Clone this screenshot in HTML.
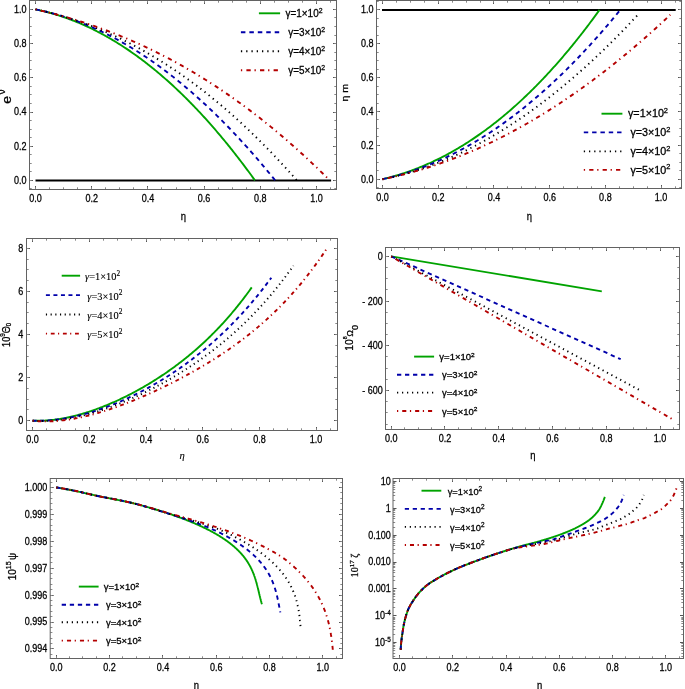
<!DOCTYPE html>
<html><head><meta charset="utf-8"><style>
html,body{margin:0;padding:0;background:#fff;width:685px;height:689px;overflow:hidden}
svg{display:block;will-change:transform}
text{stroke:#000;stroke-width:0.28px;fill:#000}
</style></head><body>
<svg width="685" height="689" viewBox="0 0 685 689">
<rect width="685" height="689" fill="#fff"/>
<path d="M35.5 189.5 V186 M35.5 0.5 V4 M91.5 189.5 V186 M91.5 0.5 V4 M147.5 189.5 V186 M147.5 0.5 V4 M204.5 189.5 V186 M204.5 0.5 V4 M260.5 189.5 V186 M260.5 0.5 V4 M316.5 189.5 V186 M316.5 0.5 V4" stroke="#555555" stroke-width="1" fill="none"/>
<path d="M35.5 189.5 V187.3 M35.5 0.5 V2.7 M49.5 189.5 V187.3 M49.5 0.5 V2.7 M63.5 189.5 V187.3 M63.5 0.5 V2.7 M77.5 189.5 V187.3 M77.5 0.5 V2.7 M91.5 189.5 V187.3 M91.5 0.5 V2.7 M105.5 189.5 V187.3 M105.5 0.5 V2.7 M119.5 189.5 V187.3 M119.5 0.5 V2.7 M133.5 189.5 V187.3 M133.5 0.5 V2.7 M147.5 189.5 V187.3 M147.5 0.5 V2.7 M161.5 189.5 V187.3 M161.5 0.5 V2.7 M176.5 189.5 V187.3 M176.5 0.5 V2.7 M190.5 189.5 V187.3 M190.5 0.5 V2.7 M204.5 189.5 V187.3 M204.5 0.5 V2.7 M218.5 189.5 V187.3 M218.5 0.5 V2.7 M232.5 189.5 V187.3 M232.5 0.5 V2.7 M246.5 189.5 V187.3 M246.5 0.5 V2.7 M260.5 189.5 V187.3 M260.5 0.5 V2.7 M274.5 189.5 V187.3 M274.5 0.5 V2.7 M288.5 189.5 V187.3 M288.5 0.5 V2.7 M302.5 189.5 V187.3 M302.5 0.5 V2.7 M316.5 189.5 V187.3 M316.5 0.5 V2.7 M330.5 189.5 V187.3 M330.5 0.5 V2.7" stroke="#8a8a8a" stroke-width="1" fill="none"/>
<path d="M29.5 180.5 H33 M336.5 180.5 H333 M29.5 146.5 H33 M336.5 146.5 H333 M29.5 112.5 H33 M336.5 112.5 H333 M29.5 77.5 H33 M336.5 77.5 H333 M29.5 43.5 H33 M336.5 43.5 H333 M29.5 9.5 H33 M336.5 9.5 H333" stroke="#555555" stroke-width="1" fill="none"/>
<path d="M29.5 188.5 H31.7 M336.5 188.5 H334.3 M29.5 180.5 H31.7 M336.5 180.5 H334.3 M29.5 171.5 H31.7 M336.5 171.5 H334.3 M29.5 163.5 H31.7 M336.5 163.5 H334.3 M29.5 154.5 H31.7 M336.5 154.5 H334.3 M29.5 146.5 H31.7 M336.5 146.5 H334.3 M29.5 137.5 H31.7 M336.5 137.5 H334.3 M29.5 129.5 H31.7 M336.5 129.5 H334.3 M29.5 120.5 H31.7 M336.5 120.5 H334.3 M29.5 112.5 H31.7 M336.5 112.5 H334.3 M29.5 103.5 H31.7 M336.5 103.5 H334.3 M29.5 94.5 H31.7 M336.5 94.5 H334.3 M29.5 86.5 H31.7 M336.5 86.5 H334.3 M29.5 77.5 H31.7 M336.5 77.5 H334.3 M29.5 69.5 H31.7 M336.5 69.5 H334.3 M29.5 60.5 H31.7 M336.5 60.5 H334.3 M29.5 52.5 H31.7 M336.5 52.5 H334.3 M29.5 43.5 H31.7 M336.5 43.5 H334.3 M29.5 35.5 H31.7 M336.5 35.5 H334.3 M29.5 26.5 H31.7 M336.5 26.5 H334.3 M29.5 17.5 H31.7 M336.5 17.5 H334.3 M29.5 9.5 H31.7 M336.5 9.5 H334.3 M29.5 0.5 H31.7 M336.5 0.5 H334.3" stroke="#8a8a8a" stroke-width="1" fill="none"/>
<rect x="29.5" y="0.5" width="307.0" height="189.0" fill="none" stroke="#626262" stroke-width="1"/>
<text transform="translate(26.6 183.8) scale(0.86 1)" font-size="10.5" text-anchor="end" font-family="'Liberation Sans', sans-serif">0.0</text>
<text transform="translate(35.5 202.3) scale(0.86 1)" font-size="10.5" text-anchor="middle" font-family="'Liberation Sans', sans-serif">0.0</text>
<text transform="translate(26.6 149.6) scale(0.86 1)" font-size="10.5" text-anchor="end" font-family="'Liberation Sans', sans-serif">0.2</text>
<text transform="translate(91.7 202.3) scale(0.86 1)" font-size="10.5" text-anchor="middle" font-family="'Liberation Sans', sans-serif">0.2</text>
<text transform="translate(26.6 115.4) scale(0.86 1)" font-size="10.5" text-anchor="end" font-family="'Liberation Sans', sans-serif">0.4</text>
<text transform="translate(147.9 202.3) scale(0.86 1)" font-size="10.5" text-anchor="middle" font-family="'Liberation Sans', sans-serif">0.4</text>
<text transform="translate(26.6 81.2) scale(0.86 1)" font-size="10.5" text-anchor="end" font-family="'Liberation Sans', sans-serif">0.6</text>
<text transform="translate(204.1 202.3) scale(0.86 1)" font-size="10.5" text-anchor="middle" font-family="'Liberation Sans', sans-serif">0.6</text>
<text transform="translate(26.6 47) scale(0.86 1)" font-size="10.5" text-anchor="end" font-family="'Liberation Sans', sans-serif">0.8</text>
<text transform="translate(260.3 202.3) scale(0.86 1)" font-size="10.5" text-anchor="middle" font-family="'Liberation Sans', sans-serif">0.8</text>
<text transform="translate(26.6 12.8) scale(0.86 1)" font-size="10.5" text-anchor="end" font-family="'Liberation Sans', sans-serif">1.0</text>
<text transform="translate(316.5 202.3) scale(0.86 1)" font-size="10.5" text-anchor="middle" font-family="'Liberation Sans', sans-serif">1.0</text>
<path d="M35.5 180.4 H331.1" stroke="#000" stroke-width="2"/>
<path d="M35.5 9.4 L36.6 9.63 L37.71 9.86 L38.81 10.1 L39.91 10.35 L41.01 10.6 L42.12 10.85 L43.22 11.12 L44.32 11.39 L45.43 11.66 L46.53 11.94 L47.63 12.23 L48.73 12.52 L49.84 12.82 L50.94 13.13 L52.04 13.44 L53.15 13.76 L54.25 14.08 L55.35 14.41 L56.45 14.75 L57.56 15.09 L58.66 15.44 L59.76 15.79 L60.86 16.15 L61.97 16.52 L63.07 16.89 L64.17 17.27 L65.28 17.65 L66.38 18.04 L67.48 18.44 L68.58 18.84 L69.69 19.25 L70.79 19.67 L71.89 20.09 L73 20.51 L74.1 20.95 L75.2 21.39 L76.3 21.83 L77.41 22.29 L78.51 22.74 L79.61 23.21 L80.72 23.68 L81.82 24.16 L82.92 24.64 L84.02 25.13 L85.13 25.63 L86.23 26.13 L87.33 26.64 L88.44 27.15 L89.54 27.67 L90.64 28.2 L91.74 28.73 L92.85 29.27 L93.95 29.82 L95.05 30.37 L96.16 30.93 L97.26 31.49 L98.36 32.06 L99.46 32.64 L100.57 33.22 L101.67 33.81 L102.77 34.41 L103.87 35.01 L104.98 35.62 L106.08 36.24 L107.18 36.86 L108.29 37.49 L109.39 38.12 L110.49 38.76 L111.59 39.41 L112.7 40.06 L113.8 40.72 L114.9 41.39 L116.01 42.06 L117.11 42.74 L118.21 43.43 L119.31 44.12 L120.42 44.82 L121.52 45.53 L122.62 46.24 L123.73 46.95 L124.83 47.68 L125.93 48.41 L127.03 49.15 L128.14 49.89 L129.24 50.64 L130.34 51.4 L131.45 52.16 L132.55 52.93 L133.65 53.71 L134.75 54.49 L135.86 55.28 L136.96 56.08 L138.06 56.88 L139.16 57.69 L140.27 58.51 L141.37 59.33 L142.47 60.16 L143.58 60.99 L144.68 61.83 L145.78 62.68 L146.88 63.54 L147.99 64.4 L149.09 65.27 L150.19 66.14 L151.3 67.02 L152.4 67.91 L153.5 68.81 L154.6 69.71 L155.71 70.62 L156.81 71.53 L157.91 72.45 L159.02 73.38 L160.12 74.32 L161.22 75.26 L162.32 76.21 L163.43 77.16 L164.53 78.12 L165.63 79.09 L166.74 80.07 L167.84 81.05 L168.94 82.04 L170.04 83.03 L171.15 84.03 L172.25 85.04 L173.35 86.06 L174.46 87.08 L175.56 88.11 L176.66 89.15 L177.76 90.19 L178.87 91.24 L179.97 92.29 L181.07 93.36 L182.17 94.43 L183.28 95.5 L184.38 96.59 L185.48 97.68 L186.59 98.77 L187.69 99.88 L188.79 100.99 L189.89 102.1 L191 103.23 L192.1 104.36 L193.2 105.5 L194.31 106.64 L195.41 107.8 L196.51 108.95 L197.61 110.12 L198.72 111.29 L199.82 112.47 L200.92 113.66 L202.03 114.85 L203.13 116.05 L204.23 117.26 L205.33 118.47 L206.44 119.69 L207.54 120.92 L208.64 122.16 L209.75 123.4 L210.85 124.65 L211.95 125.9 L213.05 127.17 L214.16 128.44 L215.26 129.71 L216.36 131 L217.47 132.29 L218.57 133.58 L219.67 134.89 L220.77 136.2 L221.88 137.52 L222.98 138.85 L224.08 140.18 L225.18 141.52 L226.29 142.87 L227.39 144.22 L228.49 145.58 L229.6 146.95 L230.7 148.32 L231.8 149.71 L232.9 151.1 L234.01 152.49 L235.11 153.9 L236.21 155.31 L237.32 156.73 L238.42 158.15 L239.52 159.58 L240.62 161.02 L241.73 162.47 L242.83 163.92 L243.93 165.38 L245.04 166.85 L246.14 168.33 L247.24 169.81 L248.34 171.3 L249.45 172.8 L250.55 174.3 L251.65 175.81 L252.76 177.33 L253.86 178.86 L254.96 180.39" fill="none" stroke="#00a300" stroke-width="1.9"/>
<path d="M35.5 9.4 L36.7 9.64 L37.91 9.88 L39.11 10.13 L40.32 10.39 L41.52 10.65 L42.73 10.92 L43.93 11.19 L45.14 11.47 L46.34 11.76 L47.54 12.05 L48.75 12.35 L49.95 12.65 L51.16 12.97 L52.36 13.28 L53.57 13.61 L54.77 13.94 L55.98 14.27 L57.18 14.62 L58.39 14.96 L59.59 15.32 L60.79 15.68 L62 16.05 L63.2 16.42 L64.41 16.8 L65.61 17.19 L66.82 17.58 L68.02 17.98 L69.23 18.38 L70.43 18.79 L71.63 19.21 L72.84 19.63 L74.04 20.06 L75.25 20.5 L76.45 20.94 L77.66 21.39 L78.86 21.84 L80.07 22.3 L81.27 22.77 L82.48 23.24 L83.68 23.72 L84.88 24.21 L86.09 24.7 L87.29 25.2 L88.5 25.7 L89.7 26.21 L90.91 26.73 L92.11 27.25 L93.32 27.78 L94.52 28.32 L95.72 28.86 L96.93 29.41 L98.13 29.96 L99.34 30.52 L100.54 31.09 L101.75 31.66 L102.95 32.24 L104.16 32.83 L105.36 33.42 L106.56 34.02 L107.77 34.62 L108.97 35.24 L110.18 35.85 L111.38 36.48 L112.59 37.11 L113.79 37.74 L115 38.38 L116.2 39.03 L117.41 39.69 L118.61 40.35 L119.81 41.02 L121.02 41.69 L122.22 42.37 L123.43 43.06 L124.63 43.75 L125.84 44.45 L127.04 45.15 L128.25 45.86 L129.45 46.58 L130.65 47.31 L131.86 48.04 L133.06 48.77 L134.27 49.51 L135.47 50.26 L136.68 51.02 L137.88 51.78 L139.09 52.55 L140.29 53.32 L141.49 54.1 L142.7 54.89 L143.9 55.69 L145.11 56.49 L146.31 57.29 L147.52 58.1 L148.72 58.92 L149.93 59.75 L151.13 60.58 L152.34 61.42 L153.54 62.26 L154.74 63.11 L155.95 63.97 L157.15 64.83 L158.36 65.7 L159.56 66.58 L160.77 67.46 L161.97 68.35 L163.18 69.24 L164.38 70.14 L165.58 71.05 L166.79 71.96 L167.99 72.88 L169.2 73.81 L170.4 74.74 L171.61 75.68 L172.81 76.63 L174.02 77.58 L175.22 78.54 L176.43 79.5 L177.63 80.47 L178.83 81.45 L180.04 82.43 L181.24 83.42 L182.45 84.42 L183.65 85.42 L184.86 86.43 L186.06 87.45 L187.27 88.47 L188.47 89.5 L189.67 90.53 L190.88 91.57 L192.08 92.62 L193.29 93.67 L194.49 94.74 L195.7 95.8 L196.9 96.87 L198.11 97.95 L199.31 99.04 L200.51 100.13 L201.72 101.23 L202.92 102.34 L204.13 103.45 L205.33 104.56 L206.54 105.69 L207.74 106.82 L208.95 107.96 L210.15 109.1 L211.36 110.25 L212.56 111.41 L213.76 112.57 L214.97 113.74 L216.17 114.91 L217.38 116.09 L218.58 117.28 L219.79 118.48 L220.99 119.68 L222.2 120.88 L223.4 122.1 L224.6 123.32 L225.81 124.55 L227.01 125.78 L228.22 127.02 L229.42 128.26 L230.63 129.52 L231.83 130.78 L233.04 132.04 L234.24 133.31 L235.44 134.59 L236.65 135.88 L237.85 137.17 L239.06 138.46 L240.26 139.77 L241.47 141.08 L242.67 142.39 L243.88 143.72 L245.08 145.05 L246.29 146.38 L247.49 147.73 L248.69 149.08 L249.9 150.43 L251.1 151.79 L252.31 153.16 L253.51 154.54 L254.72 155.92 L255.92 157.31 L257.13 158.7 L258.33 160.1 L259.53 161.51 L260.74 162.92 L261.94 164.34 L263.15 165.77 L264.35 167.2 L265.56 168.64 L266.76 170.09 L267.97 171.54 L269.17 173 L270.38 174.46 L271.58 175.94 L272.78 177.41 L273.99 178.9 L275.19 180.39" fill="none" stroke="#0000aa" stroke-width="1.9" stroke-dasharray="4.5 3.95"/>
<path d="M35.5 9.4 L36.81 9.68 L38.13 9.96 L39.44 10.25 L40.75 10.54 L42.07 10.84 L43.38 11.14 L44.69 11.45 L46.01 11.76 L47.32 12.08 L48.63 12.41 L49.95 12.74 L51.26 13.08 L52.57 13.42 L53.89 13.76 L55.2 14.12 L56.51 14.47 L57.82 14.84 L59.14 15.21 L60.45 15.58 L61.76 15.96 L63.08 16.35 L64.39 16.74 L65.7 17.13 L67.02 17.53 L68.33 17.94 L69.64 18.35 L70.96 18.77 L72.27 19.2 L73.58 19.63 L74.9 20.06 L76.21 20.5 L77.52 20.95 L78.84 21.4 L80.15 21.86 L81.46 22.32 L82.78 22.79 L84.09 23.26 L85.4 23.74 L86.72 24.23 L88.03 24.72 L89.34 25.22 L90.66 25.72 L91.97 26.23 L93.28 26.74 L94.59 27.26 L95.91 27.79 L97.22 28.32 L98.53 28.86 L99.85 29.4 L101.16 29.95 L102.47 30.5 L103.79 31.06 L105.1 31.63 L106.41 32.2 L107.73 32.77 L109.04 33.36 L110.35 33.95 L111.67 34.54 L112.98 35.14 L114.29 35.75 L115.61 36.36 L116.92 36.98 L118.23 37.6 L119.55 38.23 L120.86 38.86 L122.17 39.51 L123.49 40.15 L124.8 40.81 L126.11 41.46 L127.43 42.13 L128.74 42.8 L130.05 43.48 L131.36 44.16 L132.68 44.85 L133.99 45.54 L135.3 46.24 L136.62 46.95 L137.93 47.66 L139.24 48.38 L140.56 49.1 L141.87 49.83 L143.18 50.57 L144.5 51.31 L145.81 52.06 L147.12 52.81 L148.44 53.58 L149.75 54.34 L151.06 55.11 L152.38 55.89 L153.69 56.68 L155 57.47 L156.32 58.26 L157.63 59.07 L158.94 59.88 L160.26 60.69 L161.57 61.51 L162.88 62.34 L164.2 63.17 L165.51 64.01 L166.82 64.86 L168.13 65.71 L169.45 66.57 L170.76 67.43 L172.07 68.3 L173.39 69.18 L174.7 70.06 L176.01 70.95 L177.33 71.85 L178.64 72.75 L179.95 73.65 L181.27 74.57 L182.58 75.49 L183.89 76.41 L185.21 77.35 L186.52 78.29 L187.83 79.23 L189.15 80.18 L190.46 81.14 L191.77 82.1 L193.09 83.07 L194.4 84.05 L195.71 85.03 L197.03 86.02 L198.34 87.02 L199.65 88.02 L200.97 89.03 L202.28 90.04 L203.59 91.06 L204.9 92.09 L206.22 93.13 L207.53 94.17 L208.84 95.21 L210.16 96.27 L211.47 97.33 L212.78 98.39 L214.1 99.46 L215.41 100.54 L216.72 101.63 L218.04 102.72 L219.35 103.82 L220.66 104.92 L221.98 106.03 L223.29 107.15 L224.6 108.28 L225.92 109.41 L227.23 110.54 L228.54 111.69 L229.86 112.84 L231.17 113.99 L232.48 115.16 L233.8 116.33 L235.11 117.5 L236.42 118.69 L237.74 119.88 L239.05 121.07 L240.36 122.28 L241.67 123.49 L242.99 124.7 L244.3 125.93 L245.61 127.15 L246.93 128.39 L248.24 129.63 L249.55 130.88 L250.87 132.14 L252.18 133.4 L253.49 134.67 L254.81 135.95 L256.12 137.23 L257.43 138.52 L258.75 139.82 L260.06 141.12 L261.37 142.43 L262.69 143.75 L264 145.07 L265.31 146.4 L266.63 147.74 L267.94 149.08 L269.25 150.43 L270.57 151.79 L271.88 153.15 L273.19 154.52 L274.51 155.9 L275.82 157.28 L277.13 158.67 L278.44 160.07 L279.76 161.48 L281.07 162.89 L282.38 164.31 L283.7 165.73 L285.01 167.17 L286.32 168.61 L287.64 170.05 L288.95 171.5 L290.26 172.96 L291.58 174.43 L292.89 175.91 L294.2 177.39 L295.52 178.87 L296.83 180.37" fill="none" stroke="#000000" stroke-width="1.9" stroke-dasharray="1.3 3.97"/>
<path d="M35.5 9.4 L36.98 9.73 L38.46 10.06 L39.94 10.4 L41.41 10.75 L42.89 11.09 L44.37 11.45 L45.85 11.8 L47.33 12.16 L48.81 12.53 L50.28 12.9 L51.76 13.27 L53.24 13.65 L54.72 14.03 L56.2 14.42 L57.68 14.82 L59.15 15.21 L60.63 15.62 L62.11 16.02 L63.59 16.43 L65.07 16.85 L66.55 17.27 L68.03 17.7 L69.5 18.13 L70.98 18.56 L72.46 19 L73.94 19.44 L75.42 19.89 L76.9 20.35 L78.37 20.81 L79.85 21.27 L81.33 21.74 L82.81 22.21 L84.29 22.69 L85.77 23.17 L87.24 23.66 L88.72 24.15 L90.2 24.65 L91.68 25.15 L93.16 25.66 L94.64 26.17 L96.12 26.69 L97.59 27.21 L99.07 27.74 L100.55 28.27 L102.03 28.81 L103.51 29.35 L104.99 29.9 L106.46 30.45 L107.94 31.01 L109.42 31.57 L110.9 32.14 L112.38 32.71 L113.86 33.29 L115.34 33.88 L116.81 34.46 L118.29 35.06 L119.77 35.66 L121.25 36.26 L122.73 36.87 L124.21 37.49 L125.68 38.1 L127.16 38.73 L128.64 39.36 L130.12 40 L131.6 40.64 L133.08 41.28 L134.55 41.94 L136.03 42.59 L137.51 43.25 L138.99 43.92 L140.47 44.6 L141.95 45.27 L143.43 45.96 L144.9 46.65 L146.38 47.34 L147.86 48.04 L149.34 48.75 L150.82 49.46 L152.3 50.18 L153.77 50.9 L155.25 51.63 L156.73 52.36 L158.21 53.1 L159.69 53.84 L161.17 54.59 L162.64 55.35 L164.12 56.11 L165.6 56.88 L167.08 57.65 L168.56 58.43 L170.04 59.21 L171.52 60 L172.99 60.8 L174.47 61.6 L175.95 62.41 L177.43 63.22 L178.91 64.04 L180.39 64.86 L181.86 65.69 L183.34 66.53 L184.82 67.37 L186.3 68.22 L187.78 69.07 L189.26 69.93 L190.73 70.79 L192.21 71.66 L193.69 72.54 L195.17 73.42 L196.65 74.31 L198.13 75.21 L199.61 76.11 L201.08 77.01 L202.56 77.93 L204.04 78.85 L205.52 79.77 L207 80.7 L208.48 81.64 L209.95 82.58 L211.43 83.53 L212.91 84.48 L214.39 85.45 L215.87 86.41 L217.35 87.39 L218.82 88.37 L220.3 89.35 L221.78 90.34 L223.26 91.34 L224.74 92.34 L226.22 93.36 L227.7 94.37 L229.17 95.39 L230.65 96.42 L232.13 97.46 L233.61 98.5 L235.09 99.55 L236.57 100.6 L238.04 101.66 L239.52 102.73 L241 103.8 L242.48 104.88 L243.96 105.97 L245.44 107.06 L246.92 108.16 L248.39 109.27 L249.87 110.38 L251.35 111.5 L252.83 112.62 L254.31 113.75 L255.79 114.89 L257.26 116.03 L258.74 117.19 L260.22 118.34 L261.7 119.51 L263.18 120.68 L264.66 121.85 L266.13 123.04 L267.61 124.23 L269.09 125.42 L270.57 126.63 L272.05 127.84 L273.53 129.06 L275.01 130.28 L276.48 131.51 L277.96 132.75 L279.44 133.99 L280.92 135.24 L282.4 136.5 L283.88 137.76 L285.35 139.03 L286.83 140.31 L288.31 141.59 L289.79 142.89 L291.27 144.18 L292.75 145.49 L294.22 146.8 L295.7 148.12 L297.18 149.44 L298.66 150.78 L300.14 152.12 L301.62 153.46 L303.1 154.82 L304.57 156.18 L306.05 157.54 L307.53 158.92 L309.01 160.3 L310.49 161.69 L311.97 163.08 L313.44 164.48 L314.92 165.89 L316.4 167.31 L317.88 168.73 L319.36 170.17 L320.84 171.6 L322.31 173.05 L323.79 174.5 L325.27 175.96 L326.75 177.43 L328.23 178.9 L329.71 180.38" fill="none" stroke="#b40000" stroke-width="1.9" stroke-dasharray="1.3 4.2 4.3 3.8"/>
<path d="M258.9 13.3 L280.1 13.3" fill="none" stroke="#00a300" stroke-width="1.9"/>
<text x="285.5" y="17" font-size="10.2" font-family="'Liberation Sans', sans-serif" textLength="37" lengthAdjust="spacingAndGlyphs">&#947;=1&#215;10<tspan dy="-4.08" font-size="7.04">2</tspan></text>
<path d="M240.9 32.2 L280.1 32.2" fill="none" stroke="#0000aa" stroke-width="1.9" stroke-dasharray="4.5 3.95"/>
<text x="288.2" y="35.9" font-size="10.2" font-family="'Liberation Sans', sans-serif" textLength="37" lengthAdjust="spacingAndGlyphs">&#947;=3&#215;10<tspan dy="-4.08" font-size="7.04">2</tspan></text>
<path d="M240.9 51.3 L280.1 51.3" fill="none" stroke="#000000" stroke-width="1.9" stroke-dasharray="1.3 3.97"/>
<text x="288.2" y="55" font-size="10.2" font-family="'Liberation Sans', sans-serif" textLength="37" lengthAdjust="spacingAndGlyphs">&#947;=4&#215;10<tspan dy="-4.08" font-size="7.04">2</tspan></text>
<path d="M240.9 70.3 L280.1 70.3" fill="none" stroke="#b40000" stroke-width="1.9" stroke-dasharray="1.3 4.2 4.3 3.8"/>
<text x="288.2" y="74" font-size="10.2" font-family="'Liberation Sans', sans-serif" textLength="37" lengthAdjust="spacingAndGlyphs">&#947;=5&#215;10<tspan dy="-4.08" font-size="7.04">2</tspan></text>
<text transform="translate(11.2 103.8) rotate(-90) scale(1 0.92)" font-size="14" font-family="'Liberation Sans', sans-serif">e<tspan dy="-6.3" dx="1.8" font-size="9.5">&#957;</tspan></text>
<text transform="translate(183.3 219.7) scale(0.86 1)" font-size="11" text-anchor="middle" font-family="'Liberation Sans', sans-serif">&#951;</text>
<path d="M382.5 188.5 V185 M382.5 0.5 V4 M438.5 188.5 V185 M438.5 0.5 V4 M493.5 188.5 V185 M493.5 0.5 V4 M549.5 188.5 V185 M549.5 0.5 V4 M605.5 188.5 V185 M605.5 0.5 V4 M661.5 188.5 V185 M661.5 0.5 V4" stroke="#555555" stroke-width="1" fill="none"/>
<path d="M382.5 188.5 V186.3 M382.5 0.5 V2.7 M396.5 188.5 V186.3 M396.5 0.5 V2.7 M410.5 188.5 V186.3 M410.5 0.5 V2.7 M424.5 188.5 V186.3 M424.5 0.5 V2.7 M438.5 188.5 V186.3 M438.5 0.5 V2.7 M452.5 188.5 V186.3 M452.5 0.5 V2.7 M466.5 188.5 V186.3 M466.5 0.5 V2.7 M480.5 188.5 V186.3 M480.5 0.5 V2.7 M493.5 188.5 V186.3 M493.5 0.5 V2.7 M507.5 188.5 V186.3 M507.5 0.5 V2.7 M521.5 188.5 V186.3 M521.5 0.5 V2.7 M535.5 188.5 V186.3 M535.5 0.5 V2.7 M549.5 188.5 V186.3 M549.5 0.5 V2.7 M563.5 188.5 V186.3 M563.5 0.5 V2.7 M577.5 188.5 V186.3 M577.5 0.5 V2.7 M591.5 188.5 V186.3 M591.5 0.5 V2.7 M605.5 188.5 V186.3 M605.5 0.5 V2.7 M619.5 188.5 V186.3 M619.5 0.5 V2.7 M633.5 188.5 V186.3 M633.5 0.5 V2.7 M647.5 188.5 V186.3 M647.5 0.5 V2.7 M661.5 188.5 V186.3 M661.5 0.5 V2.7 M675.5 188.5 V186.3 M675.5 0.5 V2.7" stroke="#8a8a8a" stroke-width="1" fill="none"/>
<path d="M376.5 179.5 H380 M681.5 179.5 H678 M376.5 145.5 H380 M681.5 145.5 H678 M376.5 111.5 H380 M681.5 111.5 H678 M376.5 77.5 H380 M681.5 77.5 H678 M376.5 43.5 H380 M681.5 43.5 H678 M376.5 9.5 H380 M681.5 9.5 H678" stroke="#555555" stroke-width="1" fill="none"/>
<path d="M376.5 187.5 H378.7 M681.5 187.5 H679.3 M376.5 179.5 H378.7 M681.5 179.5 H679.3 M376.5 170.5 H378.7 M681.5 170.5 H679.3 M376.5 162.5 H378.7 M681.5 162.5 H679.3 M376.5 153.5 H378.7 M681.5 153.5 H679.3 M376.5 145.5 H378.7 M681.5 145.5 H679.3 M376.5 136.5 H378.7 M681.5 136.5 H679.3 M376.5 128.5 H378.7 M681.5 128.5 H679.3 M376.5 119.5 H378.7 M681.5 119.5 H679.3 M376.5 111.5 H378.7 M681.5 111.5 H679.3 M376.5 103.5 H378.7 M681.5 103.5 H679.3 M376.5 94.5 H378.7 M681.5 94.5 H679.3 M376.5 86.5 H378.7 M681.5 86.5 H679.3 M376.5 77.5 H378.7 M681.5 77.5 H679.3 M376.5 69.5 H378.7 M681.5 69.5 H679.3 M376.5 60.5 H378.7 M681.5 60.5 H679.3 M376.5 52.5 H378.7 M681.5 52.5 H679.3 M376.5 43.5 H378.7 M681.5 43.5 H679.3 M376.5 35.5 H378.7 M681.5 35.5 H679.3 M376.5 26.5 H378.7 M681.5 26.5 H679.3 M376.5 18.5 H378.7 M681.5 18.5 H679.3 M376.5 9.5 H378.7 M681.5 9.5 H679.3 M376.5 1.5 H378.7 M681.5 1.5 H679.3" stroke="#8a8a8a" stroke-width="1" fill="none"/>
<rect x="376.5" y="0.5" width="305.0" height="188.0" fill="none" stroke="#626262" stroke-width="1"/>
<text transform="translate(373.6 182.6) scale(0.86 1)" font-size="10.5" text-anchor="end" font-family="'Liberation Sans', sans-serif">0.0</text>
<text transform="translate(382.5 201.4) scale(0.86 1)" font-size="10.5" text-anchor="middle" font-family="'Liberation Sans', sans-serif">0.0</text>
<text transform="translate(373.6 148.74) scale(0.86 1)" font-size="10.5" text-anchor="end" font-family="'Liberation Sans', sans-serif">0.2</text>
<text transform="translate(438.22 201.4) scale(0.86 1)" font-size="10.5" text-anchor="middle" font-family="'Liberation Sans', sans-serif">0.2</text>
<text transform="translate(373.6 114.88) scale(0.86 1)" font-size="10.5" text-anchor="end" font-family="'Liberation Sans', sans-serif">0.4</text>
<text transform="translate(493.94 201.4) scale(0.86 1)" font-size="10.5" text-anchor="middle" font-family="'Liberation Sans', sans-serif">0.4</text>
<text transform="translate(373.6 81.02) scale(0.86 1)" font-size="10.5" text-anchor="end" font-family="'Liberation Sans', sans-serif">0.6</text>
<text transform="translate(549.66 201.4) scale(0.86 1)" font-size="10.5" text-anchor="middle" font-family="'Liberation Sans', sans-serif">0.6</text>
<text transform="translate(373.6 47.16) scale(0.86 1)" font-size="10.5" text-anchor="end" font-family="'Liberation Sans', sans-serif">0.8</text>
<text transform="translate(605.38 201.4) scale(0.86 1)" font-size="10.5" text-anchor="middle" font-family="'Liberation Sans', sans-serif">0.8</text>
<text transform="translate(373.6 13.3) scale(0.86 1)" font-size="10.5" text-anchor="end" font-family="'Liberation Sans', sans-serif">1.0</text>
<text transform="translate(661.1 201.4) scale(0.86 1)" font-size="10.5" text-anchor="middle" font-family="'Liberation Sans', sans-serif">1.0</text>
<path d="M382 9.9 H675.7" stroke="#000" stroke-width="2"/>
<path d="M382.5 179.2 L383.59 178.94 L384.68 178.68 L385.77 178.42 L386.86 178.14 L387.95 177.86 L389.04 177.58 L390.13 177.29 L391.22 177 L392.32 176.7 L393.41 176.4 L394.5 176.09 L395.59 175.77 L396.68 175.45 L397.77 175.12 L398.86 174.79 L399.95 174.45 L401.04 174.11 L402.13 173.76 L403.22 173.41 L404.31 173.05 L405.4 172.69 L406.49 172.32 L407.58 171.94 L408.67 171.56 L409.76 171.17 L410.86 170.78 L411.95 170.38 L413.04 169.98 L414.13 169.57 L415.22 169.15 L416.31 168.73 L417.4 168.31 L418.49 167.88 L419.58 167.44 L420.67 167 L421.76 166.55 L422.85 166.09 L423.94 165.63 L425.03 165.17 L426.12 164.69 L427.21 164.22 L428.31 163.73 L429.4 163.25 L430.49 162.75 L431.58 162.25 L432.67 161.75 L433.76 161.23 L434.85 160.72 L435.94 160.19 L437.03 159.66 L438.12 159.13 L439.21 158.59 L440.3 158.04 L441.39 157.49 L442.48 156.93 L443.57 156.37 L444.66 155.8 L445.75 155.22 L446.85 154.64 L447.94 154.05 L449.03 153.46 L450.12 152.86 L451.21 152.25 L452.3 151.64 L453.39 151.02 L454.48 150.4 L455.57 149.77 L456.66 149.13 L457.75 148.49 L458.84 147.84 L459.93 147.19 L461.02 146.53 L462.11 145.86 L463.2 145.19 L464.3 144.51 L465.39 143.83 L466.48 143.14 L467.57 142.44 L468.66 141.74 L469.75 141.03 L470.84 140.32 L471.93 139.6 L473.02 138.87 L474.11 138.14 L475.2 137.4 L476.29 136.65 L477.38 135.9 L478.47 135.14 L479.56 134.38 L480.65 133.61 L481.74 132.83 L482.84 132.05 L483.93 131.26 L485.02 130.46 L486.11 129.66 L487.2 128.85 L488.29 128.04 L489.38 127.22 L490.47 126.39 L491.56 125.56 L492.65 124.72 L493.74 123.87 L494.83 123.02 L495.92 122.16 L497.01 121.3 L498.1 120.42 L499.19 119.55 L500.28 118.66 L501.38 117.77 L502.47 116.87 L503.56 115.97 L504.65 115.06 L505.74 114.14 L506.83 113.22 L507.92 112.29 L509.01 111.35 L510.1 110.41 L511.19 109.46 L512.28 108.5 L513.37 107.54 L514.46 106.57 L515.55 105.6 L516.64 104.62 L517.73 103.63 L518.83 102.63 L519.92 101.63 L521.01 100.62 L522.1 99.61 L523.19 98.58 L524.28 97.55 L525.37 96.52 L526.46 95.48 L527.55 94.43 L528.64 93.37 L529.73 92.31 L530.82 91.24 L531.91 90.17 L533 89.09 L534.09 88 L535.18 86.9 L536.27 85.8 L537.37 84.69 L538.46 83.57 L539.55 82.45 L540.64 81.32 L541.73 80.18 L542.82 79.04 L543.91 77.89 L545 76.73 L546.09 75.57 L547.18 74.4 L548.27 73.22 L549.36 72.04 L550.45 70.84 L551.54 69.65 L552.63 68.44 L553.72 67.23 L554.81 66.01 L555.91 64.78 L557 63.55 L558.09 62.31 L559.18 61.06 L560.27 59.81 L561.36 58.55 L562.45 57.28 L563.54 56 L564.63 54.72 L565.72 53.43 L566.81 52.13 L567.9 50.83 L568.99 49.52 L570.08 48.2 L571.17 46.88 L572.26 45.55 L573.36 44.21 L574.45 42.86 L575.54 41.51 L576.63 40.15 L577.72 38.78 L578.81 37.4 L579.9 36.02 L580.99 34.63 L582.08 33.24 L583.17 31.83 L584.26 30.42 L585.35 29 L586.44 27.58 L587.53 26.14 L588.62 24.7 L589.71 23.26 L590.8 21.8 L591.9 20.34 L592.99 18.87 L594.08 17.39 L595.17 15.91 L596.26 14.42 L597.35 12.92 L598.44 11.41 L599.53 9.9" fill="none" stroke="#00a300" stroke-width="1.9"/>
<path d="M382.5 179.2 L383.69 178.94 L384.88 178.68 L386.07 178.41 L387.27 178.13 L388.46 177.85 L389.65 177.57 L390.84 177.28 L392.03 176.98 L393.22 176.67 L394.41 176.37 L395.61 176.05 L396.8 175.73 L397.99 175.4 L399.18 175.07 L400.37 174.73 L401.56 174.39 L402.75 174.04 L403.95 173.68 L405.14 173.32 L406.33 172.96 L407.52 172.58 L408.71 172.21 L409.9 171.82 L411.09 171.43 L412.29 171.04 L413.48 170.63 L414.67 170.23 L415.86 169.81 L417.05 169.4 L418.24 168.97 L419.43 168.54 L420.62 168.1 L421.82 167.66 L423.01 167.21 L424.2 166.76 L425.39 166.3 L426.58 165.83 L427.77 165.36 L428.96 164.88 L430.16 164.4 L431.35 163.91 L432.54 163.42 L433.73 162.92 L434.92 162.41 L436.11 161.9 L437.3 161.38 L438.5 160.86 L439.69 160.33 L440.88 159.79 L442.07 159.25 L443.26 158.7 L444.45 158.15 L445.64 157.59 L446.84 157.02 L448.03 156.45 L449.22 155.87 L450.41 155.29 L451.6 154.7 L452.79 154.11 L453.98 153.5 L455.18 152.9 L456.37 152.28 L457.56 151.67 L458.75 151.04 L459.94 150.41 L461.13 149.77 L462.32 149.13 L463.52 148.48 L464.71 147.83 L465.9 147.17 L467.09 146.5 L468.28 145.83 L469.47 145.15 L470.66 144.47 L471.86 143.78 L473.05 143.08 L474.24 142.38 L475.43 141.67 L476.62 140.96 L477.81 140.24 L479 139.51 L480.19 138.78 L481.39 138.04 L482.58 137.3 L483.77 136.55 L484.96 135.79 L486.15 135.03 L487.34 134.26 L488.53 133.49 L489.73 132.71 L490.92 131.92 L492.11 131.13 L493.3 130.33 L494.49 129.52 L495.68 128.71 L496.87 127.9 L498.07 127.07 L499.26 126.25 L500.45 125.41 L501.64 124.57 L502.83 123.72 L504.02 122.87 L505.21 122.01 L506.41 121.15 L507.6 120.28 L508.79 119.4 L509.98 118.52 L511.17 117.63 L512.36 116.73 L513.55 115.83 L514.75 114.92 L515.94 114.01 L517.13 113.09 L518.32 112.16 L519.51 111.23 L520.7 110.29 L521.89 109.35 L523.09 108.4 L524.28 107.44 L525.47 106.48 L526.66 105.51 L527.85 104.53 L529.04 103.55 L530.23 102.57 L531.42 101.57 L532.62 100.57 L533.81 99.57 L535 98.56 L536.19 97.54 L537.38 96.51 L538.57 95.48 L539.76 94.45 L540.96 93.4 L542.15 92.35 L543.34 91.3 L544.53 90.24 L545.72 89.17 L546.91 88.1 L548.1 87.02 L549.3 85.93 L550.49 84.84 L551.68 83.74 L552.87 82.63 L554.06 81.52 L555.25 80.41 L556.44 79.28 L557.64 78.15 L558.83 77.02 L560.02 75.88 L561.21 74.73 L562.4 73.57 L563.59 72.41 L564.78 71.24 L565.98 70.07 L567.17 68.89 L568.36 67.71 L569.55 66.51 L570.74 65.32 L571.93 64.11 L573.12 62.9 L574.32 61.68 L575.51 60.46 L576.7 59.23 L577.89 57.99 L579.08 56.75 L580.27 55.5 L581.46 54.25 L582.66 52.99 L583.85 51.72 L585.04 50.44 L586.23 49.16 L587.42 47.88 L588.61 46.58 L589.8 45.29 L591 43.98 L592.19 42.67 L593.38 41.35 L594.57 40.03 L595.76 38.69 L596.95 37.36 L598.14 36.01 L599.33 34.66 L600.53 33.31 L601.72 31.95 L602.91 30.58 L604.1 29.2 L605.29 27.82 L606.48 26.43 L607.67 25.04 L608.87 23.64 L610.06 22.23 L611.25 20.82 L612.44 19.4 L613.63 17.97 L614.82 16.54 L616.01 15.1 L617.21 13.65 L618.4 12.2 L619.59 10.74" fill="none" stroke="#0000aa" stroke-width="1.9" stroke-dasharray="4.43 3.89"/>
<path d="M382.5 179.2 L383.79 178.94 L385.08 178.68 L386.36 178.42 L387.65 178.15 L388.94 177.87 L390.23 177.58 L391.52 177.29 L392.8 177 L394.09 176.69 L395.38 176.39 L396.67 176.07 L397.96 175.75 L399.24 175.42 L400.53 175.09 L401.82 174.75 L403.11 174.41 L404.4 174.06 L405.68 173.71 L406.97 173.34 L408.26 172.98 L409.55 172.6 L410.84 172.22 L412.12 171.84 L413.41 171.45 L414.7 171.05 L415.99 170.65 L417.28 170.24 L418.56 169.82 L419.85 169.4 L421.14 168.97 L422.43 168.54 L423.72 168.1 L425 167.66 L426.29 167.21 L427.58 166.75 L428.87 166.29 L430.16 165.82 L431.44 165.35 L432.73 164.87 L434.02 164.38 L435.31 163.89 L436.6 163.39 L437.88 162.89 L439.17 162.38 L440.46 161.87 L441.75 161.34 L443.04 160.82 L444.32 160.28 L445.61 159.75 L446.9 159.2 L448.19 158.65 L449.48 158.1 L450.76 157.53 L452.05 156.97 L453.34 156.39 L454.63 155.81 L455.92 155.23 L457.2 154.64 L458.49 154.04 L459.78 153.44 L461.07 152.83 L462.36 152.21 L463.64 151.59 L464.93 150.97 L466.22 150.33 L467.51 149.69 L468.8 149.05 L470.08 148.4 L471.37 147.75 L472.66 147.08 L473.95 146.42 L475.24 145.74 L476.52 145.07 L477.81 144.38 L479.1 143.69 L480.39 143 L481.68 142.29 L482.96 141.59 L484.25 140.87 L485.54 140.15 L486.83 139.43 L488.12 138.7 L489.4 137.96 L490.69 137.22 L491.98 136.47 L493.27 135.72 L494.56 134.96 L495.84 134.19 L497.13 133.42 L498.42 132.64 L499.71 131.86 L501 131.07 L502.28 130.27 L503.57 129.47 L504.86 128.67 L506.15 127.86 L507.44 127.04 L508.72 126.22 L510.01 125.39 L511.3 124.55 L512.59 123.71 L513.88 122.87 L515.16 122.01 L516.45 121.16 L517.74 120.29 L519.03 119.42 L520.32 118.55 L521.6 117.67 L522.89 116.78 L524.18 115.89 L525.47 114.99 L526.76 114.09 L528.04 113.18 L529.33 112.26 L530.62 111.34 L531.91 110.41 L533.2 109.48 L534.48 108.54 L535.77 107.6 L537.06 106.65 L538.35 105.7 L539.64 104.73 L540.92 103.77 L542.21 102.8 L543.5 101.82 L544.79 100.83 L546.08 99.85 L547.36 98.85 L548.65 97.85 L549.94 96.84 L551.23 95.83 L552.52 94.81 L553.8 93.79 L555.09 92.76 L556.38 91.73 L557.67 90.69 L558.96 89.64 L560.24 88.59 L561.53 87.53 L562.82 86.47 L564.11 85.4 L565.4 84.32 L566.68 83.24 L567.97 82.16 L569.26 81.07 L570.55 79.97 L571.84 78.87 L573.12 77.76 L574.41 76.64 L575.7 75.52 L576.99 74.4 L578.28 73.27 L579.56 72.13 L580.85 70.99 L582.14 69.84 L583.43 68.69 L584.72 67.53 L586 66.36 L587.29 65.19 L588.58 64.02 L589.87 62.84 L591.16 61.65 L592.44 60.46 L593.73 59.26 L595.02 58.05 L596.31 56.84 L597.6 55.63 L598.88 54.41 L600.17 53.18 L601.46 51.95 L602.75 50.71 L604.04 49.47 L605.32 48.22 L606.61 46.96 L607.9 45.7 L609.19 44.44 L610.48 43.17 L611.76 41.89 L613.05 40.61 L614.34 39.32 L615.63 38.03 L616.92 36.73 L618.2 35.42 L619.49 34.11 L620.78 32.8 L622.07 31.47 L623.36 30.15 L624.64 28.82 L625.93 27.48 L627.22 26.13 L628.51 24.78 L629.8 23.43 L631.08 22.07 L632.37 20.7 L633.66 19.33 L634.95 17.95 L636.24 16.57 L637.52 15.18 L638.81 13.79" fill="none" stroke="#000000" stroke-width="1.9" stroke-dasharray="1.28 3.91"/>
<path d="M382.5 179.2 L383.95 178.91 L385.39 178.62 L386.84 178.32 L388.28 178.01 L389.73 177.7 L391.18 177.39 L392.62 177.07 L394.07 176.74 L395.52 176.41 L396.96 176.07 L398.41 175.73 L399.85 175.38 L401.3 175.03 L402.75 174.67 L404.19 174.31 L405.64 173.94 L407.09 173.56 L408.53 173.18 L409.98 172.8 L411.42 172.4 L412.87 172.01 L414.32 171.61 L415.76 171.2 L417.21 170.78 L418.65 170.37 L420.1 169.94 L421.55 169.51 L422.99 169.08 L424.44 168.64 L425.89 168.19 L427.33 167.74 L428.78 167.28 L430.22 166.82 L431.67 166.35 L433.12 165.88 L434.56 165.4 L436.01 164.92 L437.46 164.43 L438.9 163.93 L440.35 163.43 L441.79 162.93 L443.24 162.41 L444.69 161.9 L446.13 161.37 L447.58 160.85 L449.03 160.31 L450.47 159.78 L451.92 159.23 L453.36 158.68 L454.81 158.13 L456.26 157.57 L457.7 157 L459.15 156.43 L460.59 155.85 L462.04 155.27 L463.49 154.68 L464.93 154.09 L466.38 153.49 L467.83 152.89 L469.27 152.28 L470.72 151.66 L472.16 151.04 L473.61 150.42 L475.06 149.79 L476.5 149.15 L477.95 148.51 L479.4 147.86 L480.84 147.21 L482.29 146.55 L483.73 145.89 L485.18 145.22 L486.63 144.54 L488.07 143.86 L489.52 143.18 L490.97 142.49 L492.41 141.79 L493.86 141.09 L495.3 140.38 L496.75 139.67 L498.2 138.95 L499.64 138.23 L501.09 137.5 L502.53 136.77 L503.98 136.03 L505.43 135.28 L506.87 134.53 L508.32 133.77 L509.77 133.01 L511.21 132.25 L512.66 131.47 L514.1 130.7 L515.55 129.91 L517 129.12 L518.44 128.33 L519.89 127.53 L521.34 126.73 L522.78 125.92 L524.23 125.1 L525.67 124.28 L527.12 123.45 L528.57 122.62 L530.01 121.78 L531.46 120.94 L532.9 120.09 L534.35 119.24 L535.8 118.38 L537.24 117.51 L538.69 116.64 L540.14 115.77 L541.58 114.89 L543.03 114 L544.47 113.11 L545.92 112.21 L547.37 111.31 L548.81 110.4 L550.26 109.49 L551.71 108.57 L553.15 107.65 L554.6 106.72 L556.04 105.78 L557.49 104.84 L558.94 103.9 L560.38 102.94 L561.83 101.99 L563.27 101.02 L564.72 100.06 L566.17 99.08 L567.61 98.11 L569.06 97.12 L570.51 96.13 L571.95 95.14 L573.4 94.14 L574.84 93.13 L576.29 92.12 L577.74 91.11 L579.18 90.08 L580.63 89.06 L582.08 88.02 L583.52 86.99 L584.97 85.94 L586.41 84.89 L587.86 83.84 L589.31 82.78 L590.75 81.71 L592.2 80.64 L593.65 79.57 L595.09 78.49 L596.54 77.4 L597.98 76.31 L599.43 75.21 L600.88 74.11 L602.32 73 L603.77 71.89 L605.21 70.77 L606.66 69.64 L608.11 68.51 L609.55 67.38 L611 66.24 L612.45 65.09 L613.89 63.94 L615.34 62.78 L616.78 61.62 L618.23 60.45 L619.68 59.28 L621.12 58.1 L622.57 56.91 L624.02 55.72 L625.46 54.53 L626.91 53.33 L628.35 52.12 L629.8 50.91 L631.25 49.7 L632.69 48.47 L634.14 47.25 L635.59 46.01 L637.03 44.78 L638.48 43.53 L639.92 42.28 L641.37 41.03 L642.82 39.77 L644.26 38.5 L645.71 37.23 L647.15 35.96 L648.6 34.68 L650.05 33.39 L651.49 32.1 L652.94 30.8 L654.39 29.5 L655.83 28.19 L657.28 26.87 L658.72 25.55 L660.17 24.23 L661.62 22.9 L663.06 21.56 L664.51 20.22 L665.96 18.88 L667.4 17.53 L668.85 16.17 L670.29 14.81" fill="none" stroke="#b40000" stroke-width="1.9" stroke-dasharray="1.28 4.14 4.24 3.74"/>
<path d="M601.5 113.7 L622.4 113.7" fill="none" stroke="#00a300" stroke-width="1.9"/>
<text x="628" y="117.4" font-size="10.4" font-family="'Liberation Sans', sans-serif" textLength="40" lengthAdjust="spacingAndGlyphs">&#947;=1&#215;10<tspan dy="-4.16" font-size="7.18">2</tspan></text>
<path d="M583.8 132.4 L622.4 132.4" fill="none" stroke="#0000aa" stroke-width="1.9" stroke-dasharray="4.43 3.89"/>
<text x="630.4" y="136.1" font-size="10.4" font-family="'Liberation Sans', sans-serif" textLength="40" lengthAdjust="spacingAndGlyphs">&#947;=3&#215;10<tspan dy="-4.16" font-size="7.18">2</tspan></text>
<path d="M583.8 151.4 L622.4 151.4" fill="none" stroke="#000000" stroke-width="1.9" stroke-dasharray="1.28 3.91"/>
<text x="630.4" y="155.1" font-size="10.4" font-family="'Liberation Sans', sans-serif" textLength="40" lengthAdjust="spacingAndGlyphs">&#947;=4&#215;10<tspan dy="-4.16" font-size="7.18">2</tspan></text>
<path d="M583.8 169.9 L622.4 169.9" fill="none" stroke="#b40000" stroke-width="1.9" stroke-dasharray="1.28 4.14 4.24 3.74"/>
<text x="630.4" y="173.6" font-size="10.4" font-family="'Liberation Sans', sans-serif" textLength="40" lengthAdjust="spacingAndGlyphs">&#947;=5&#215;10<tspan dy="-4.16" font-size="7.18">2</tspan></text>
<text transform="translate(348.2 101.5) rotate(-90) scale(1 0.93)" font-size="10.6" font-family="'Liberation Sans', sans-serif">&#951; m</text>
<text transform="translate(529.3 220) scale(0.86 1)" font-size="11" text-anchor="middle" font-family="'Liberation Sans', sans-serif">&#951;</text>
<path d="M32.5 430.5 V427 M32.5 238.5 V242 M89.5 430.5 V427 M89.5 238.5 V242 M146.5 430.5 V427 M146.5 238.5 V242 M202.5 430.5 V427 M202.5 238.5 V242 M259.5 430.5 V427 M259.5 238.5 V242 M316.5 430.5 V427 M316.5 238.5 V242" stroke="#555555" stroke-width="1" fill="none"/>
<path d="M32.5 430.5 V428.3 M32.5 238.5 V240.7 M46.5 430.5 V428.3 M46.5 238.5 V240.7 M60.5 430.5 V428.3 M60.5 238.5 V240.7 M75.5 430.5 V428.3 M75.5 238.5 V240.7 M89.5 430.5 V428.3 M89.5 238.5 V240.7 M103.5 430.5 V428.3 M103.5 238.5 V240.7 M117.5 430.5 V428.3 M117.5 238.5 V240.7 M131.5 430.5 V428.3 M131.5 238.5 V240.7 M146.5 430.5 V428.3 M146.5 238.5 V240.7 M160.5 430.5 V428.3 M160.5 238.5 V240.7 M174.5 430.5 V428.3 M174.5 238.5 V240.7 M188.5 430.5 V428.3 M188.5 238.5 V240.7 M202.5 430.5 V428.3 M202.5 238.5 V240.7 M216.5 430.5 V428.3 M216.5 238.5 V240.7 M231.5 430.5 V428.3 M231.5 238.5 V240.7 M245.5 430.5 V428.3 M245.5 238.5 V240.7 M259.5 430.5 V428.3 M259.5 238.5 V240.7 M273.5 430.5 V428.3 M273.5 238.5 V240.7 M287.5 430.5 V428.3 M287.5 238.5 V240.7 M301.5 430.5 V428.3 M301.5 238.5 V240.7 M316.5 430.5 V428.3 M316.5 238.5 V240.7 M330.5 430.5 V428.3 M330.5 238.5 V240.7" stroke="#8a8a8a" stroke-width="1" fill="none"/>
<path d="M26.5 420.5 H30 M337.5 420.5 H334 M26.5 377.5 H30 M337.5 377.5 H334 M26.5 334.5 H30 M337.5 334.5 H334 M26.5 291.5 H30 M337.5 291.5 H334 M26.5 248.5 H30 M337.5 248.5 H334" stroke="#555555" stroke-width="1" fill="none"/>
<path d="M26.5 420.5 H28.7 M337.5 420.5 H335.3 M26.5 409.5 H28.7 M337.5 409.5 H335.3 M26.5 399.5 H28.7 M337.5 399.5 H335.3 M26.5 388.5 H28.7 M337.5 388.5 H335.3 M26.5 377.5 H28.7 M337.5 377.5 H335.3 M26.5 366.5 H28.7 M337.5 366.5 H335.3 M26.5 356.5 H28.7 M337.5 356.5 H335.3 M26.5 345.5 H28.7 M337.5 345.5 H335.3 M26.5 334.5 H28.7 M337.5 334.5 H335.3 M26.5 323.5 H28.7 M337.5 323.5 H335.3 M26.5 312.5 H28.7 M337.5 312.5 H335.3 M26.5 302.5 H28.7 M337.5 302.5 H335.3 M26.5 291.5 H28.7 M337.5 291.5 H335.3 M26.5 280.5 H28.7 M337.5 280.5 H335.3 M26.5 269.5 H28.7 M337.5 269.5 H335.3 M26.5 259.5 H28.7 M337.5 259.5 H335.3 M26.5 248.5 H28.7 M337.5 248.5 H335.3" stroke="#8a8a8a" stroke-width="1" fill="none"/>
<rect x="26.5" y="238.5" width="311.0" height="192.0" fill="none" stroke="#626262" stroke-width="1"/>
<text transform="translate(23.3 424) scale(0.86 1)" font-size="10.5" text-anchor="end" font-family="'Liberation Sans', sans-serif">0</text>
<text transform="translate(23.3 380.92) scale(0.86 1)" font-size="10.5" text-anchor="end" font-family="'Liberation Sans', sans-serif">2</text>
<text transform="translate(23.3 337.84) scale(0.86 1)" font-size="10.5" text-anchor="end" font-family="'Liberation Sans', sans-serif">4</text>
<text transform="translate(23.3 294.76) scale(0.86 1)" font-size="10.5" text-anchor="end" font-family="'Liberation Sans', sans-serif">6</text>
<text transform="translate(23.3 251.68) scale(0.86 1)" font-size="10.5" text-anchor="end" font-family="'Liberation Sans', sans-serif">8</text>
<text transform="translate(32.6 443) scale(0.86 1)" font-size="10.5" text-anchor="middle" font-family="'Liberation Sans', sans-serif">0.0</text>
<text transform="translate(89.3 443) scale(0.86 1)" font-size="10.5" text-anchor="middle" font-family="'Liberation Sans', sans-serif">0.2</text>
<text transform="translate(146 443) scale(0.86 1)" font-size="10.5" text-anchor="middle" font-family="'Liberation Sans', sans-serif">0.4</text>
<text transform="translate(202.7 443) scale(0.86 1)" font-size="10.5" text-anchor="middle" font-family="'Liberation Sans', sans-serif">0.6</text>
<text transform="translate(259.4 443) scale(0.86 1)" font-size="10.5" text-anchor="middle" font-family="'Liberation Sans', sans-serif">0.8</text>
<text transform="translate(316.1 443) scale(0.86 1)" font-size="10.5" text-anchor="middle" font-family="'Liberation Sans', sans-serif">1.0</text>
<path d="M32.6 420.7 L33.7 420.74 L34.8 420.77 L35.9 420.79 L37 420.8 L38.11 420.8 L39.21 420.79 L40.31 420.77 L41.41 420.74 L42.51 420.71 L43.61 420.66 L44.71 420.6 L45.81 420.54 L46.92 420.46 L48.02 420.38 L49.12 420.28 L50.22 420.18 L51.32 420.07 L52.42 419.95 L53.52 419.83 L54.62 419.69 L55.73 419.55 L56.83 419.4 L57.93 419.24 L59.03 419.07 L60.13 418.89 L61.23 418.71 L62.33 418.52 L63.43 418.32 L64.54 418.11 L65.64 417.9 L66.74 417.67 L67.84 417.45 L68.94 417.21 L70.04 416.97 L71.14 416.71 L72.24 416.46 L73.35 416.19 L74.45 415.92 L75.55 415.64 L76.65 415.36 L77.75 415.07 L78.85 414.77 L79.95 414.46 L81.05 414.15 L82.16 413.83 L83.26 413.51 L84.36 413.18 L85.46 412.84 L86.56 412.5 L87.66 412.15 L88.76 411.79 L89.86 411.43 L90.97 411.06 L92.07 410.69 L93.17 410.31 L94.27 409.92 L95.37 409.53 L96.47 409.13 L97.57 408.73 L98.67 408.32 L99.78 407.91 L100.88 407.49 L101.98 407.06 L103.08 406.63 L104.18 406.19 L105.28 405.75 L106.38 405.3 L107.48 404.85 L108.59 404.39 L109.69 403.92 L110.79 403.45 L111.89 402.98 L112.99 402.49 L114.09 402.01 L115.19 401.51 L116.29 401.02 L117.39 400.51 L118.5 400.01 L119.6 399.49 L120.7 398.97 L121.8 398.45 L122.9 397.92 L124 397.38 L125.1 396.84 L126.2 396.3 L127.31 395.74 L128.41 395.19 L129.51 394.62 L130.61 394.06 L131.71 393.48 L132.81 392.91 L133.91 392.32 L135.01 391.73 L136.12 391.14 L137.22 390.54 L138.32 389.93 L139.42 389.32 L140.52 388.7 L141.62 388.08 L142.72 387.45 L143.82 386.82 L144.93 386.18 L146.03 385.54 L147.13 384.89 L148.23 384.23 L149.33 383.57 L150.43 382.9 L151.53 382.23 L152.63 381.55 L153.74 380.86 L154.84 380.17 L155.94 379.47 L157.04 378.77 L158.14 378.06 L159.24 377.35 L160.34 376.62 L161.44 375.9 L162.55 375.16 L163.65 374.42 L164.75 373.68 L165.85 372.92 L166.95 372.16 L168.05 371.4 L169.15 370.63 L170.25 369.85 L171.36 369.06 L172.46 368.27 L173.56 367.47 L174.66 366.66 L175.76 365.85 L176.86 365.03 L177.96 364.2 L179.06 363.36 L180.17 362.52 L181.27 361.67 L182.37 360.81 L183.47 359.95 L184.57 359.08 L185.67 358.2 L186.77 357.31 L187.87 356.42 L188.98 355.51 L190.08 354.6 L191.18 353.68 L192.28 352.75 L193.38 351.82 L194.48 350.87 L195.58 349.92 L196.68 348.96 L197.79 347.99 L198.89 347.01 L199.99 346.02 L201.09 345.03 L202.19 344.02 L203.29 343.01 L204.39 341.98 L205.49 340.95 L206.59 339.9 L207.7 338.85 L208.8 337.79 L209.9 336.72 L211 335.63 L212.1 334.54 L213.2 333.44 L214.3 332.33 L215.4 331.2 L216.51 330.07 L217.61 328.92 L218.71 327.77 L219.81 326.6 L220.91 325.42 L222.01 324.24 L223.11 323.04 L224.21 321.82 L225.32 320.6 L226.42 319.37 L227.52 318.12 L228.62 316.86 L229.72 315.59 L230.82 314.31 L231.92 313.01 L233.02 311.7 L234.13 310.38 L235.23 309.05 L236.33 307.7 L237.43 306.34 L238.53 304.96 L239.63 303.58 L240.73 302.18 L241.83 300.76 L242.94 299.33 L244.04 297.89 L245.14 296.43 L246.24 294.96 L247.34 293.47 L248.44 291.97 L249.54 290.46 L250.64 288.92 L251.75 287.38" fill="none" stroke="#00a300" stroke-width="1.9"/>
<path d="M32.6 420.7 L33.8 420.74 L35 420.77 L36.2 420.79 L37.4 420.8 L38.6 420.8 L39.8 420.79 L41 420.77 L42.2 420.74 L43.4 420.7 L44.6 420.65 L45.79 420.59 L46.99 420.53 L48.19 420.45 L49.39 420.36 L50.59 420.27 L51.79 420.16 L52.99 420.05 L54.19 419.93 L55.39 419.8 L56.59 419.66 L57.79 419.51 L58.99 419.35 L60.19 419.19 L61.39 419.01 L62.59 418.83 L63.79 418.64 L64.99 418.44 L66.19 418.24 L67.39 418.02 L68.59 417.8 L69.79 417.57 L70.99 417.33 L72.18 417.09 L73.38 416.83 L74.58 416.57 L75.78 416.3 L76.98 416.03 L78.18 415.74 L79.38 415.45 L80.58 415.16 L81.78 414.85 L82.98 414.54 L84.18 414.22 L85.38 413.89 L86.58 413.56 L87.78 413.22 L88.98 412.87 L90.18 412.52 L91.38 412.16 L92.58 411.79 L93.78 411.42 L94.98 411.04 L96.18 410.65 L97.37 410.25 L98.57 409.85 L99.77 409.45 L100.97 409.03 L102.17 408.61 L103.37 408.18 L104.57 407.75 L105.77 407.31 L106.97 406.87 L108.17 406.41 L109.37 405.96 L110.57 405.49 L111.77 405.02 L112.97 404.54 L114.17 404.06 L115.37 403.57 L116.57 403.07 L117.77 402.57 L118.97 402.06 L120.17 401.55 L121.37 401.03 L122.56 400.5 L123.76 399.97 L124.96 399.43 L126.16 398.89 L127.36 398.34 L128.56 397.78 L129.76 397.22 L130.96 396.65 L132.16 396.08 L133.36 395.49 L134.56 394.91 L135.76 394.31 L136.96 393.72 L138.16 393.11 L139.36 392.5 L140.56 391.88 L141.76 391.26 L142.96 390.63 L144.16 389.99 L145.36 389.35 L146.56 388.7 L147.76 388.05 L148.95 387.39 L150.15 386.72 L151.35 386.05 L152.55 385.37 L153.75 384.69 L154.95 383.99 L156.15 383.3 L157.35 382.59 L158.55 381.88 L159.75 381.16 L160.95 380.44 L162.15 379.71 L163.35 378.97 L164.55 378.23 L165.75 377.48 L166.95 376.72 L168.15 375.96 L169.35 375.19 L170.55 374.42 L171.75 373.63 L172.95 372.84 L174.14 372.04 L175.34 371.24 L176.54 370.43 L177.74 369.61 L178.94 368.79 L180.14 367.95 L181.34 367.11 L182.54 366.27 L183.74 365.41 L184.94 364.55 L186.14 363.68 L187.34 362.81 L188.54 361.92 L189.74 361.03 L190.94 360.13 L192.14 359.23 L193.34 358.31 L194.54 357.39 L195.74 356.46 L196.94 355.52 L198.14 354.57 L199.34 353.62 L200.53 352.65 L201.73 351.68 L202.93 350.7 L204.13 349.71 L205.33 348.72 L206.53 347.71 L207.73 346.7 L208.93 345.67 L210.13 344.64 L211.33 343.6 L212.53 342.55 L213.73 341.49 L214.93 340.42 L216.13 339.34 L217.33 338.25 L218.53 337.16 L219.73 336.05 L220.93 334.93 L222.13 333.8 L223.33 332.67 L224.53 331.52 L225.72 330.36 L226.92 329.2 L228.12 328.02 L229.32 326.83 L230.52 325.63 L231.72 324.42 L232.92 323.2 L234.12 321.97 L235.32 320.73 L236.52 319.48 L237.72 318.21 L238.92 316.94 L240.12 315.65 L241.32 314.35 L242.52 313.04 L243.72 311.71 L244.92 310.38 L246.12 309.03 L247.32 307.67 L248.52 306.3 L249.72 304.92 L250.91 303.52 L252.11 302.11 L253.31 300.69 L254.51 299.25 L255.71 297.8 L256.91 296.34 L258.11 294.86 L259.31 293.37 L260.51 291.87 L261.71 290.35 L262.91 288.82 L264.11 287.27 L265.31 285.71 L266.51 284.14 L267.71 282.55 L268.91 280.94 L270.11 279.32 L271.31 277.69" fill="none" stroke="#0000aa" stroke-width="1.9" stroke-dasharray="4 3.52"/>
<path d="M32.6 420.7 L33.91 420.78 L35.22 420.85 L36.53 420.9 L37.84 420.94 L39.15 420.97 L40.46 420.99 L41.77 420.99 L43.09 420.98 L44.4 420.96 L45.71 420.92 L47.02 420.88 L48.33 420.82 L49.64 420.75 L50.95 420.67 L52.26 420.58 L53.57 420.48 L54.88 420.36 L56.19 420.24 L57.5 420.1 L58.81 419.96 L60.12 419.8 L61.43 419.63 L62.75 419.46 L64.06 419.27 L65.37 419.07 L66.68 418.87 L67.99 418.65 L69.3 418.42 L70.61 418.19 L71.92 417.94 L73.23 417.69 L74.54 417.43 L75.85 417.16 L77.16 416.88 L78.47 416.59 L79.78 416.29 L81.09 415.98 L82.4 415.67 L83.72 415.34 L85.03 415.01 L86.34 414.67 L87.65 414.33 L88.96 413.97 L90.27 413.61 L91.58 413.24 L92.89 412.86 L94.2 412.47 L95.51 412.08 L96.82 411.68 L98.13 411.27 L99.44 410.85 L100.75 410.43 L102.06 410 L103.38 409.56 L104.69 409.12 L106 408.67 L107.31 408.21 L108.62 407.75 L109.93 407.28 L111.24 406.8 L112.55 406.32 L113.86 405.82 L115.17 405.33 L116.48 404.82 L117.79 404.31 L119.1 403.8 L120.41 403.27 L121.72 402.74 L123.04 402.21 L124.35 401.67 L125.66 401.12 L126.97 400.56 L128.28 400 L129.59 399.44 L130.9 398.86 L132.21 398.28 L133.52 397.7 L134.83 397.11 L136.14 396.51 L137.45 395.91 L138.76 395.3 L140.07 394.69 L141.38 394.06 L142.69 393.44 L144.01 392.8 L145.32 392.17 L146.63 391.52 L147.94 390.87 L149.25 390.21 L150.56 389.55 L151.87 388.88 L153.18 388.21 L154.49 387.52 L155.8 386.84 L157.11 386.14 L158.42 385.45 L159.73 384.74 L161.04 384.03 L162.35 383.31 L163.67 382.59 L164.98 381.86 L166.29 381.12 L167.6 380.38 L168.91 379.63 L170.22 378.87 L171.53 378.11 L172.84 377.34 L174.15 376.56 L175.46 375.78 L176.77 374.99 L178.08 374.2 L179.39 373.4 L180.7 372.59 L182.01 371.77 L183.33 370.95 L184.64 370.12 L185.95 369.28 L187.26 368.44 L188.57 367.59 L189.88 366.73 L191.19 365.86 L192.5 364.99 L193.81 364.11 L195.12 363.22 L196.43 362.32 L197.74 361.42 L199.05 360.5 L200.36 359.58 L201.67 358.66 L202.98 357.72 L204.3 356.78 L205.61 355.82 L206.92 354.86 L208.23 353.89 L209.54 352.91 L210.85 351.92 L212.16 350.93 L213.47 349.92 L214.78 348.91 L216.09 347.88 L217.4 346.85 L218.71 345.81 L220.02 344.75 L221.33 343.69 L222.64 342.62 L223.96 341.54 L225.27 340.45 L226.58 339.34 L227.89 338.23 L229.2 337.11 L230.51 335.97 L231.82 334.83 L233.13 333.67 L234.44 332.5 L235.75 331.33 L237.06 330.14 L238.37 328.93 L239.68 327.72 L240.99 326.5 L242.3 325.26 L243.62 324.01 L244.93 322.75 L246.24 321.47 L247.55 320.19 L248.86 318.89 L250.17 317.57 L251.48 316.25 L252.79 314.91 L254.1 313.55 L255.41 312.19 L256.72 310.8 L258.03 309.41 L259.34 308 L260.65 306.57 L261.96 305.14 L263.27 303.68 L264.59 302.21 L265.9 300.73 L267.21 299.23 L268.52 297.71 L269.83 296.18 L271.14 294.63 L272.45 293.07 L273.76 291.49 L275.07 289.89 L276.38 288.27 L277.69 286.64 L279 284.99 L280.31 283.32 L281.62 281.64 L282.93 279.94 L284.25 278.21 L285.56 276.47 L286.87 274.71 L288.18 272.94 L289.49 271.14 L290.8 269.32 L292.11 267.48 L293.42 265.63" fill="none" stroke="#000000" stroke-width="1.9" stroke-dasharray="1.16 3.53"/>
<path d="M32.6 420.69 L34.08 420.84 L35.56 420.97 L37.04 421.08 L38.52 421.18 L40 421.25 L41.48 421.31 L42.96 421.35 L44.44 421.38 L45.92 421.38 L47.4 421.38 L48.88 421.35 L50.36 421.31 L51.84 421.25 L53.32 421.18 L54.8 421.09 L56.28 420.99 L57.76 420.87 L59.24 420.74 L60.72 420.59 L62.2 420.43 L63.68 420.26 L65.16 420.07 L66.64 419.87 L68.12 419.66 L69.6 419.44 L71.08 419.2 L72.56 418.95 L74.05 418.69 L75.53 418.42 L77.01 418.13 L78.49 417.84 L79.97 417.53 L81.45 417.21 L82.93 416.88 L84.41 416.55 L85.89 416.2 L87.37 415.84 L88.85 415.47 L90.33 415.09 L91.81 414.7 L93.29 414.3 L94.77 413.9 L96.25 413.48 L97.73 413.06 L99.21 412.62 L100.69 412.18 L102.17 411.73 L103.65 411.27 L105.13 410.81 L106.61 410.33 L108.09 409.85 L109.57 409.36 L111.05 408.86 L112.53 408.36 L114.01 407.85 L115.49 407.33 L116.97 406.8 L118.45 406.27 L119.93 405.73 L121.41 405.18 L122.89 404.62 L124.37 404.06 L125.85 403.5 L127.33 402.92 L128.81 402.34 L130.29 401.76 L131.77 401.17 L133.25 400.57 L134.73 399.96 L136.21 399.35 L137.69 398.74 L139.17 398.12 L140.65 397.49 L142.13 396.85 L143.61 396.22 L145.09 395.57 L146.57 394.92 L148.05 394.26 L149.53 393.6 L151.01 392.94 L152.49 392.26 L153.98 391.58 L155.46 390.9 L156.94 390.21 L158.42 389.52 L159.9 388.82 L161.38 388.11 L162.86 387.4 L164.34 386.68 L165.82 385.96 L167.3 385.24 L168.78 384.5 L170.26 383.76 L171.74 383.02 L173.22 382.27 L174.7 381.51 L176.18 380.75 L177.66 379.99 L179.14 379.21 L180.62 378.44 L182.1 377.65 L183.58 376.86 L185.06 376.07 L186.54 375.26 L188.02 374.45 L189.5 373.64 L190.98 372.82 L192.46 371.99 L193.94 371.16 L195.42 370.32 L196.9 369.47 L198.38 368.62 L199.86 367.76 L201.34 366.89 L202.82 366.02 L204.3 365.13 L205.78 364.25 L207.26 363.35 L208.74 362.45 L210.22 361.53 L211.7 360.62 L213.18 359.69 L214.66 358.75 L216.14 357.81 L217.62 356.86 L219.1 355.9 L220.58 354.93 L222.06 353.95 L223.54 352.97 L225.02 351.97 L226.5 350.97 L227.98 349.95 L229.46 348.93 L230.94 347.9 L232.42 346.85 L233.9 345.8 L235.39 344.73 L236.87 343.66 L238.35 342.57 L239.83 341.48 L241.31 340.37 L242.79 339.25 L244.27 338.12 L245.75 336.98 L247.23 335.82 L248.71 334.66 L250.19 333.48 L251.67 332.29 L253.15 331.08 L254.63 329.86 L256.11 328.63 L257.59 327.39 L259.07 326.13 L260.55 324.86 L262.03 323.57 L263.51 322.27 L264.99 320.95 L266.47 319.62 L267.95 318.27 L269.43 316.9 L270.91 315.52 L272.39 314.13 L273.87 312.71 L275.35 311.28 L276.83 309.84 L278.31 308.37 L279.79 306.89 L281.27 305.39 L282.75 303.87 L284.23 302.33 L285.71 300.77 L287.19 299.2 L288.67 297.6 L290.15 295.98 L291.63 294.35 L293.11 292.69 L294.59 291.01 L296.07 289.31 L297.55 287.59 L299.03 285.84 L300.51 284.08 L301.99 282.29 L303.47 280.47 L304.95 278.64 L306.43 276.78 L307.91 274.89 L309.39 272.98 L310.87 271.05 L312.35 269.08 L313.83 267.1 L315.32 265.08 L316.8 263.05 L318.28 260.98 L319.76 258.88 L321.24 256.76 L322.72 254.61 L324.2 252.43 L325.68 250.22 L327.16 247.98" fill="none" stroke="#b40000" stroke-width="1.9" stroke-dasharray="1.16 3.74 3.83 3.38"/>
<path d="M61.7 275.7 L80.1 275.7" fill="none" stroke="#00a300" stroke-width="1.9"/>
<text x="85.1" y="280.1" font-size="10.6" font-family="'Liberation Serif', serif" textLength="35" lengthAdjust="spacingAndGlyphs" style="stroke-width:0.12px"><tspan font-style="italic">&#947;</tspan>=1&#215;10<tspan dy="-4.5" font-size="7.5">2</tspan></text>
<path d="M45.9 295.1 L80.1 295.1" fill="none" stroke="#0000aa" stroke-width="1.9" stroke-dasharray="4 3.52"/>
<text x="87.3" y="299.5" font-size="10.6" font-family="'Liberation Serif', serif" textLength="35" lengthAdjust="spacingAndGlyphs" style="stroke-width:0.12px"><tspan font-style="italic">&#947;</tspan>=3&#215;10<tspan dy="-4.5" font-size="7.5">2</tspan></text>
<path d="M45.9 314.5 L80.1 314.5" fill="none" stroke="#000000" stroke-width="1.9" stroke-dasharray="1.16 3.53"/>
<text x="87.3" y="318.9" font-size="10.6" font-family="'Liberation Serif', serif" textLength="35" lengthAdjust="spacingAndGlyphs" style="stroke-width:0.12px"><tspan font-style="italic">&#947;</tspan>=4&#215;10<tspan dy="-4.5" font-size="7.5">2</tspan></text>
<path d="M45.9 333.6 L80.1 333.6" fill="none" stroke="#b40000" stroke-width="1.9" stroke-dasharray="1.16 3.74 3.83 3.38"/>
<text x="87.3" y="338" font-size="10.6" font-family="'Liberation Serif', serif" textLength="35" lengthAdjust="spacingAndGlyphs" style="stroke-width:0.12px"><tspan font-style="italic">&#947;</tspan>=5&#215;10<tspan dy="-4.5" font-size="7.5">2</tspan></text>
<text transform="translate(9.6 346.9) rotate(-90) scale(0.88 1)" font-size="10.3" font-family="'Liberation Sans', sans-serif">10<tspan dy="-5" font-size="7.2">9</tspan><tspan dy="5">&#920;</tspan><tspan dy="1.6" font-size="6.8">0</tspan></text>
<text x="182.1" y="459.2" font-size="10.6" font-family="'Liberation Serif', serif" font-style="italic" text-anchor="middle" style="stroke-width:0.1px">&#951;</text>
<path d="M391.5 429.5 V426 M391.5 247.5 V251 M444.5 429.5 V426 M444.5 247.5 V251 M498.5 429.5 V426 M498.5 247.5 V251 M552.5 429.5 V426 M552.5 247.5 V251 M606.5 429.5 V426 M606.5 247.5 V251 M660.5 429.5 V426 M660.5 247.5 V251" stroke="#555555" stroke-width="1" fill="none"/>
<path d="M391.5 429.5 V427.3 M391.5 247.5 V249.7 M404.5 429.5 V427.3 M404.5 247.5 V249.7 M418.5 429.5 V427.3 M418.5 247.5 V249.7 M431.5 429.5 V427.3 M431.5 247.5 V249.7 M444.5 429.5 V427.3 M444.5 247.5 V249.7 M458.5 429.5 V427.3 M458.5 247.5 V249.7 M471.5 429.5 V427.3 M471.5 247.5 V249.7 M485.5 429.5 V427.3 M485.5 247.5 V249.7 M498.5 429.5 V427.3 M498.5 247.5 V249.7 M512.5 429.5 V427.3 M512.5 247.5 V249.7 M525.5 429.5 V427.3 M525.5 247.5 V249.7 M539.5 429.5 V427.3 M539.5 247.5 V249.7 M552.5 429.5 V427.3 M552.5 247.5 V249.7 M565.5 429.5 V427.3 M565.5 247.5 V249.7 M579.5 429.5 V427.3 M579.5 247.5 V249.7 M592.5 429.5 V427.3 M592.5 247.5 V249.7 M606.5 429.5 V427.3 M606.5 247.5 V249.7 M619.5 429.5 V427.3 M619.5 247.5 V249.7 M633.5 429.5 V427.3 M633.5 247.5 V249.7 M646.5 429.5 V427.3 M646.5 247.5 V249.7 M660.5 429.5 V427.3 M660.5 247.5 V249.7 M673.5 429.5 V427.3 M673.5 247.5 V249.7" stroke="#8a8a8a" stroke-width="1" fill="none"/>
<path d="M385.5 390.5 H389 M679.5 390.5 H676 M385.5 345.5 H389 M679.5 345.5 H676 M385.5 301.5 H389 M679.5 301.5 H676 M385.5 256.5 H389 M679.5 256.5 H676" stroke="#555555" stroke-width="1" fill="none"/>
<path d="M385.5 424.5 H387.7 M679.5 424.5 H677.3 M385.5 412.5 H387.7 M679.5 412.5 H677.3 M385.5 401.5 H387.7 M679.5 401.5 H677.3 M385.5 390.5 H387.7 M679.5 390.5 H677.3 M385.5 379.5 H387.7 M679.5 379.5 H677.3 M385.5 368.5 H387.7 M679.5 368.5 H677.3 M385.5 356.5 H387.7 M679.5 356.5 H677.3 M385.5 345.5 H387.7 M679.5 345.5 H677.3 M385.5 334.5 H387.7 M679.5 334.5 H677.3 M385.5 323.5 H387.7 M679.5 323.5 H677.3 M385.5 312.5 H387.7 M679.5 312.5 H677.3 M385.5 301.5 H387.7 M679.5 301.5 H677.3 M385.5 289.5 H387.7 M679.5 289.5 H677.3 M385.5 278.5 H387.7 M679.5 278.5 H677.3 M385.5 267.5 H387.7 M679.5 267.5 H677.3 M385.5 256.5 H387.7 M679.5 256.5 H677.3" stroke="#8a8a8a" stroke-width="1" fill="none"/>
<rect x="385.5" y="247.5" width="294.0" height="182.0" fill="none" stroke="#626262" stroke-width="1"/>
<text transform="translate(382.7 393.9) scale(0.86 1)" font-size="10.5" text-anchor="end" font-family="'Liberation Sans', sans-serif">- 600</text>
<text transform="translate(382.7 349.2) scale(0.86 1)" font-size="10.5" text-anchor="end" font-family="'Liberation Sans', sans-serif">- 400</text>
<text transform="translate(382.7 304.5) scale(0.86 1)" font-size="10.5" text-anchor="end" font-family="'Liberation Sans', sans-serif">- 200</text>
<text transform="translate(382.7 259.8) scale(0.86 1)" font-size="10.5" text-anchor="end" font-family="'Liberation Sans', sans-serif">0</text>
<text transform="translate(391.2 441.5) scale(0.86 1)" font-size="10.5" text-anchor="middle" font-family="'Liberation Sans', sans-serif">0.0</text>
<text transform="translate(444.96 441.5) scale(0.86 1)" font-size="10.5" text-anchor="middle" font-family="'Liberation Sans', sans-serif">0.2</text>
<text transform="translate(498.72 441.5) scale(0.86 1)" font-size="10.5" text-anchor="middle" font-family="'Liberation Sans', sans-serif">0.4</text>
<text transform="translate(552.48 441.5) scale(0.86 1)" font-size="10.5" text-anchor="middle" font-family="'Liberation Sans', sans-serif">0.6</text>
<text transform="translate(606.24 441.5) scale(0.86 1)" font-size="10.5" text-anchor="middle" font-family="'Liberation Sans', sans-serif">0.8</text>
<text transform="translate(660 441.5) scale(0.86 1)" font-size="10.5" text-anchor="middle" font-family="'Liberation Sans', sans-serif">1.0</text>
<path d="M391.2 256.4 L601.8 291.4" fill="none" stroke="#00a300" stroke-width="1.9"/>
<path d="M391.2 256.4 L620.7 359.21" fill="none" stroke="#0000aa" stroke-width="1.9" stroke-dasharray="4.27 3.75"/>
<path d="M391.2 256.4 L641.59 391.17" fill="none" stroke="#000000" stroke-width="1.9" stroke-dasharray="1.23 3.77"/>
<path d="M391.2 256.4 L672.2 419.11" fill="none" stroke="#b40000" stroke-width="1.9" stroke-dasharray="1.23 3.99 4.08 3.61"/>
<path d="M414.1 356.6 L434.1 356.6" fill="none" stroke="#00a300" stroke-width="1.9"/>
<text x="439.3" y="360.2" font-size="8.9" font-family="'Liberation Sans', sans-serif" textLength="35.5" lengthAdjust="spacingAndGlyphs">&#947;=1&#215;10<tspan dy="-3.56" font-size="6.14">2</tspan></text>
<path d="M397 374.7 L434.1 374.7" fill="none" stroke="#0000aa" stroke-width="1.9" stroke-dasharray="4.27 3.75"/>
<text x="442" y="378.3" font-size="8.9" font-family="'Liberation Sans', sans-serif" textLength="35.5" lengthAdjust="spacingAndGlyphs">&#947;=3&#215;10<tspan dy="-3.56" font-size="6.14">2</tspan></text>
<path d="M397 392.6 L434.1 392.6" fill="none" stroke="#000000" stroke-width="1.9" stroke-dasharray="1.23 3.77"/>
<text x="442" y="396.2" font-size="8.9" font-family="'Liberation Sans', sans-serif" textLength="35.5" lengthAdjust="spacingAndGlyphs">&#947;=4&#215;10<tspan dy="-3.56" font-size="6.14">2</tspan></text>
<path d="M397 411 L434.1 411" fill="none" stroke="#b40000" stroke-width="1.9" stroke-dasharray="1.23 3.99 4.08 3.61"/>
<text x="442" y="414.6" font-size="8.9" font-family="'Liberation Sans', sans-serif" textLength="35.5" lengthAdjust="spacingAndGlyphs">&#947;=5&#215;10<tspan dy="-3.56" font-size="6.14">2</tspan></text>
<text transform="translate(353.4 350.7) rotate(-90) scale(0.95 1)" font-size="10.8" font-family="'Liberation Sans', sans-serif">10<tspan dy="-6" font-size="5.5">8</tspan><tspan dy="6" font-size="9">&#937;</tspan><tspan dy="4.7" font-size="9.5">0</tspan></text>
<text transform="translate(532.8 459) scale(0.86 1)" font-size="11" text-anchor="middle" font-family="'Liberation Sans', sans-serif">&#951;</text>
<path d="M56.5 658.5 V655 M56.5 478.5 V482 M109.5 658.5 V655 M109.5 478.5 V482 M162.5 658.5 V655 M162.5 478.5 V482 M216.5 658.5 V655 M216.5 478.5 V482 M269.5 658.5 V655 M269.5 478.5 V482 M322.5 658.5 V655 M322.5 478.5 V482" stroke="#555555" stroke-width="1" fill="none"/>
<path d="M56.5 658.5 V656.3 M56.5 478.5 V480.7 M69.5 658.5 V656.3 M69.5 478.5 V480.7 M82.5 658.5 V656.3 M82.5 478.5 V480.7 M96.5 658.5 V656.3 M96.5 478.5 V480.7 M109.5 658.5 V656.3 M109.5 478.5 V480.7 M122.5 658.5 V656.3 M122.5 478.5 V480.7 M136.5 658.5 V656.3 M136.5 478.5 V480.7 M149.5 658.5 V656.3 M149.5 478.5 V480.7 M162.5 658.5 V656.3 M162.5 478.5 V480.7 M176.5 658.5 V656.3 M176.5 478.5 V480.7 M189.5 658.5 V656.3 M189.5 478.5 V480.7 M202.5 658.5 V656.3 M202.5 478.5 V480.7 M216.5 658.5 V656.3 M216.5 478.5 V480.7 M229.5 658.5 V656.3 M229.5 478.5 V480.7 M242.5 658.5 V656.3 M242.5 478.5 V480.7 M256.5 658.5 V656.3 M256.5 478.5 V480.7 M269.5 658.5 V656.3 M269.5 478.5 V480.7 M282.5 658.5 V656.3 M282.5 478.5 V480.7 M296.5 658.5 V656.3 M296.5 478.5 V480.7 M309.5 658.5 V656.3 M309.5 478.5 V480.7 M322.5 658.5 V656.3 M322.5 478.5 V480.7 M336.5 658.5 V656.3 M336.5 478.5 V480.7" stroke="#8a8a8a" stroke-width="1" fill="none"/>
<path d="M50.2 487.5 H53.7 M342.5 487.5 H339 M50.2 514.5 H53.7 M342.5 514.5 H339 M50.2 541.5 H53.7 M342.5 541.5 H339 M50.2 568.5 H53.7 M342.5 568.5 H339 M50.2 595.5 H53.7 M342.5 595.5 H339 M50.2 622.5 H53.7 M342.5 622.5 H339 M50.2 648.5 H53.7 M342.5 648.5 H339" stroke="#555555" stroke-width="1" fill="none"/>
<path d="M50.2 482.5 H52.4 M342.5 482.5 H340.3 M50.2 487.5 H52.4 M342.5 487.5 H340.3 M50.2 492.5 H52.4 M342.5 492.5 H340.3 M50.2 498.5 H52.4 M342.5 498.5 H340.3 M50.2 503.5 H52.4 M342.5 503.5 H340.3 M50.2 509.5 H52.4 M342.5 509.5 H340.3 M50.2 514.5 H52.4 M342.5 514.5 H340.3 M50.2 519.5 H52.4 M342.5 519.5 H340.3 M50.2 525.5 H52.4 M342.5 525.5 H340.3 M50.2 530.5 H52.4 M342.5 530.5 H340.3 M50.2 535.5 H52.4 M342.5 535.5 H340.3 M50.2 541.5 H52.4 M342.5 541.5 H340.3 M50.2 546.5 H52.4 M342.5 546.5 H340.3 M50.2 552.5 H52.4 M342.5 552.5 H340.3 M50.2 557.5 H52.4 M342.5 557.5 H340.3 M50.2 562.5 H52.4 M342.5 562.5 H340.3 M50.2 568.5 H52.4 M342.5 568.5 H340.3 M50.2 573.5 H52.4 M342.5 573.5 H340.3 M50.2 578.5 H52.4 M342.5 578.5 H340.3 M50.2 584.5 H52.4 M342.5 584.5 H340.3 M50.2 589.5 H52.4 M342.5 589.5 H340.3 M50.2 595.5 H52.4 M342.5 595.5 H340.3 M50.2 600.5 H52.4 M342.5 600.5 H340.3 M50.2 605.5 H52.4 M342.5 605.5 H340.3 M50.2 611.5 H52.4 M342.5 611.5 H340.3 M50.2 616.5 H52.4 M342.5 616.5 H340.3 M50.2 622.5 H52.4 M342.5 622.5 H340.3 M50.2 627.5 H52.4 M342.5 627.5 H340.3 M50.2 632.5 H52.4 M342.5 632.5 H340.3 M50.2 638.5 H52.4 M342.5 638.5 H340.3 M50.2 643.5 H52.4 M342.5 643.5 H340.3 M50.2 648.5 H52.4 M342.5 648.5 H340.3 M50.2 654.5 H52.4 M342.5 654.5 H340.3" stroke="#8a8a8a" stroke-width="1" fill="none"/>
<rect x="50.2" y="478.5" width="292.3" height="180.0" fill="none" stroke="#626262" stroke-width="1"/>
<text transform="translate(47.3 490.9) scale(0.86 1)" font-size="10.5" text-anchor="end" font-family="'Liberation Sans', sans-serif">1.000</text>
<text transform="translate(47.3 517.8) scale(0.86 1)" font-size="10.5" text-anchor="end" font-family="'Liberation Sans', sans-serif">0.999</text>
<text transform="translate(47.3 544.7) scale(0.86 1)" font-size="10.5" text-anchor="end" font-family="'Liberation Sans', sans-serif">0.998</text>
<text transform="translate(47.3 571.6) scale(0.86 1)" font-size="10.5" text-anchor="end" font-family="'Liberation Sans', sans-serif">0.997</text>
<text transform="translate(47.3 598.5) scale(0.86 1)" font-size="10.5" text-anchor="end" font-family="'Liberation Sans', sans-serif">0.996</text>
<text transform="translate(47.3 625.4) scale(0.86 1)" font-size="10.5" text-anchor="end" font-family="'Liberation Sans', sans-serif">0.995</text>
<text transform="translate(47.3 652.3) scale(0.86 1)" font-size="10.5" text-anchor="end" font-family="'Liberation Sans', sans-serif">0.994</text>
<text transform="translate(56.3 670.5) scale(0.86 1)" font-size="10.5" text-anchor="middle" font-family="'Liberation Sans', sans-serif">0.0</text>
<text transform="translate(109.6 670.5) scale(0.86 1)" font-size="10.5" text-anchor="middle" font-family="'Liberation Sans', sans-serif">0.2</text>
<text transform="translate(162.9 670.5) scale(0.86 1)" font-size="10.5" text-anchor="middle" font-family="'Liberation Sans', sans-serif">0.4</text>
<text transform="translate(216.2 670.5) scale(0.86 1)" font-size="10.5" text-anchor="middle" font-family="'Liberation Sans', sans-serif">0.6</text>
<text transform="translate(269.5 670.5) scale(0.86 1)" font-size="10.5" text-anchor="middle" font-family="'Liberation Sans', sans-serif">0.8</text>
<text transform="translate(322.8 670.5) scale(0.86 1)" font-size="10.5" text-anchor="middle" font-family="'Liberation Sans', sans-serif">1.0</text>
<path d="M56.3 487.5 L58.07 487.79 L59.8 488.08 L61.49 488.38 L63.14 488.67 L64.76 488.96 L66.34 489.25 L67.89 489.55 L69.41 489.84 L70.91 490.13 L72.38 490.42 L73.83 490.72 L75.25 491.01 L76.66 491.3 L78.05 491.59 L79.42 491.89 L80.78 492.18 L82.13 492.47 L83.47 492.76 L84.8 493.06 L86.13 493.35 L87.45 493.64 L88.78 493.93 L90.1 494.23 L91.43 494.52 L92.76 494.81 L94.09 495.1 L95.44 495.4 L96.8 495.69 L98.17 495.98 L99.55 496.27 L100.96 496.57 L102.38 496.86 L103.81 497.15 L105.26 497.44 L106.72 497.74 L108.19 498.03 L109.67 498.32 L111.15 498.61 L112.63 498.91 L114.11 499.2 L115.59 499.49 L117.06 499.78 L118.52 500.08 L119.98 500.37 L121.41 500.66 L122.84 500.95 L124.24 501.25 L125.62 501.54 L126.97 501.83 L128.29 502.12 L129.59 502.42 L130.85 502.71 L132.09 503 L133.3 503.29 L134.48 503.59 L135.65 503.88 L136.79 504.17 L137.91 504.46 L139.02 504.76 L140.11 505.05 L141.19 505.34 L142.26 505.63 L143.32 505.93 L144.37 506.22 L145.42 506.51 L146.46 506.8 L147.49 507.09 L148.51 507.39 L149.53 507.68 L150.54 507.97 L151.54 508.26 L152.54 508.56 L153.53 508.85 L154.51 509.14 L155.48 509.43 L156.45 509.73 L157.41 510.02 L158.37 510.31 L159.32 510.6 L160.26 510.9 L161.19 511.19 L162.12 511.48 L163.04 511.77 L163.96 512.07 L164.86 512.36 L165.77 512.65 L166.66 512.94 L167.55 513.24 L168.43 513.53 L169.31 513.82 L170.18 514.11 L171.04 514.41 L171.9 514.7 L172.75 514.99 L173.59 515.28 L174.43 515.58 L175.26 515.87 L176.09 516.16 L176.9 516.45 L177.72 516.75 L178.52 517.04 L179.33 517.33 L180.12 517.62 L180.91 517.92 L181.69 518.21 L182.47 518.5 L183.24 518.79 L184.01 519.09 L184.77 519.38 L185.52 519.67 L186.27 519.96 L187.01 520.26 L187.75 520.55 L188.48 520.84 L189.2 521.13 L189.92 521.43 L190.64 521.72 L191.35 522.01 L192.05 522.3 L192.75 522.6 L193.44 522.89 L194.13 523.18 L194.81 523.47 L195.48 523.77 L196.15 524.06 L196.82 524.35 L197.48 524.64 L198.14 524.94 L198.79 525.23 L199.43 525.52 L200.07 525.81 L200.7 526.1 L201.33 526.4 L201.96 526.69 L202.58 526.98 L203.19 527.27 L203.8 527.57 L204.4 527.86 L205 528.15 L205.6 528.44 L206.19 528.74 L206.77 529.03 L207.35 529.32 L207.93 529.61 L208.5 529.91 L209.06 530.2 L209.63 530.49 L210.18 530.78 L210.73 531.08 L211.28 531.37 L211.83 531.66 L212.36 531.95 L212.9 532.25 L213.43 532.54 L213.95 532.83 L214.47 533.12 L214.99 533.42 L215.5 533.71 L216.01 534 L216.51 534.29 L217.01 534.59 L217.5 534.88 L217.99 535.17 L218.48 535.46 L218.96 535.76 L219.44 536.05 L219.91 536.34 L220.38 536.63 L220.85 536.93 L221.31 537.22 L221.76 537.51 L222.22 537.8 L222.66 538.1 L223.11 538.39 L223.55 538.68 L223.98 538.97 L224.42 539.27 L224.84 539.56 L225.27 539.85 L225.69 540.14 L226.11 540.44 L226.52 540.73 L226.93 541.02 L227.33 541.31 L227.73 541.61 L228.13 541.9 L228.52 542.19 L228.91 542.48 L229.3 542.78 L229.68 543.07 L230.06 543.36 L230.44 543.65 L230.81 543.95 L231.18 544.24 L231.54 544.53 L231.9 544.82 L232.26 545.11 L232.61 545.41 L232.96 545.7 L233.31 545.99 L233.65 546.28 L233.99 546.58 L234.33 546.87 L234.66 547.16 L234.99 547.45 L235.31 547.75 L235.64 548.04 L235.96 548.33 L236.27 548.62 L236.59 548.92 L236.89 549.21 L237.2 549.5 L237.5 549.79 L237.8 550.09 L238.1 550.38 L238.39 550.67 L238.69 550.96 L238.97 551.26 L239.26 551.55 L239.54 551.84 L239.82 552.13 L240.09 552.43 L240.36 552.72 L240.63 553.01 L240.9 553.3 L241.16 553.6 L241.42 553.89 L241.68 554.18 L241.94 554.47 L242.19 554.77 L242.44 555.06 L242.68 555.35 L242.93 555.64 L243.17 555.94 L243.41 556.23 L243.64 556.52 L243.88 556.81 L244.11 557.11 L244.33 557.4 L244.56 557.69 L244.78 557.98 L245 558.28 L245.22 558.57 L245.43 558.86 L245.64 559.15 L245.85 559.45 L246.06 559.74 L246.27 560.03 L246.47 560.32 L246.67 560.62 L246.86 560.91 L247.06 561.2 L247.25 561.49 L247.44 561.79 L247.63 562.08 L247.82 562.37 L248 562.66 L248.18 562.96 L248.36 563.25 L248.54 563.54 L248.71 563.83 L248.89 564.12 L249.06 564.42 L249.23 564.71 L249.39 565 L249.56 565.29 L249.72 565.59 L249.88 565.88 L250.04 566.17 L250.2 566.46 L250.35 566.76 L250.5 567.05 L250.65 567.34 L250.8 567.63 L250.95 567.93 L251.09 568.22 L251.24 568.51 L251.38 568.8 L251.52 569.1 L251.66 569.39 L251.79 569.68 L251.93 569.97 L252.06 570.27 L252.19 570.56 L252.32 570.85 L252.45 571.14 L252.58 571.44 L252.7 571.73 L252.83 572.02 L252.95 572.31 L253.07 572.61 L253.19 572.9 L253.3 573.19 L253.42 573.48 L253.54 573.78 L253.65 574.07 L253.76 574.36 L253.87 574.65 L253.98 574.95 L254.09 575.24 L254.19 575.53 L254.3 575.82 L254.4 576.12 L254.51 576.41 L254.61 576.7 L254.71 576.99 L254.81 577.29 L254.91 577.58 L255 577.87 L255.1 578.16 L255.19 578.46 L255.29 578.75 L255.38 579.04 L255.47 579.33 L255.56 579.63 L255.65 579.92 L255.74 580.21 L255.83 580.5 L255.92 580.8 L256 581.09 L256.09 581.38 L256.17 581.67 L256.26 581.97 L256.34 582.26 L256.42 582.55 L256.5 582.84 L256.58 583.13 L256.66 583.43 L256.74 583.72 L256.82 584.01 L256.9 584.3 L256.98 584.6 L257.05 584.89 L257.13 585.18 L257.21 585.47 L257.28 585.77 L257.36 586.06 L257.43 586.35 L257.5 586.64 L257.58 586.94 L257.65 587.23 L257.72 587.52 L257.8 587.81 L257.87 588.11 L257.94 588.4 L258.01 588.69 L258.08 588.98 L258.15 589.28 L258.22 589.57 L258.29 589.86 L258.36 590.15 L258.43 590.45 L258.5 590.74 L258.57 591.03 L258.64 591.32 L258.71 591.62 L258.78 591.91 L258.85 592.2 L258.92 592.49 L258.99 592.79 L259.06 593.08 L259.13 593.37 L259.2 593.66 L259.26 593.96 L259.33 594.25 L259.4 594.54 L259.47 594.83 L259.54 595.13 L259.61 595.42 L259.68 595.71 L259.76 596 L259.83 596.3 L259.9 596.59 L259.97 596.88 L260.04 597.17 L260.11 597.47 L260.19 597.76 L260.26 598.05 L260.33 598.34 L260.41 598.64 L260.48 598.93 L260.55 599.22 L260.63 599.51 L260.71 599.81 L260.78 600.1 L260.86 600.39 L260.94 600.68 L261.01 600.98 L261.09 601.27 L261.17 601.56 L261.25 601.85 L261.33 602.14 L261.41 602.44 L261.5 602.73 L261.58 603.02 L261.66 603.31 L261.75 603.61 L261.83 603.9 L261.92 604.19" fill="none" stroke="#00a300" stroke-width="1.9"/>
<path d="M56.3 487.5 L58.37 487.81 L60.36 488.13 L62.27 488.44 L64.11 488.75 L65.89 489.07 L67.6 489.38 L69.26 489.69 L70.87 490 L72.43 490.32 L73.94 490.63 L75.42 490.94 L76.86 491.26 L78.28 491.57 L79.67 491.88 L81.03 492.2 L82.39 492.51 L83.73 492.82 L85.06 493.13 L86.39 493.45 L87.73 493.76 L89.07 494.07 L90.42 494.39 L91.79 494.7 L93.17 495.01 L94.58 495.33 L96.03 495.64 L97.5 495.95 L99.01 496.26 L100.57 496.58 L102.17 496.89 L103.8 497.2 L105.47 497.52 L107.15 497.83 L108.84 498.14 L110.54 498.46 L112.22 498.77 L113.89 499.08 L115.54 499.39 L117.15 499.71 L118.72 500.02 L120.27 500.33 L121.78 500.65 L123.26 500.96 L124.7 501.27 L126.12 501.59 L127.52 501.9 L128.88 502.21 L130.22 502.53 L131.53 502.84 L132.82 503.15 L134.08 503.46 L135.33 503.78 L136.55 504.09 L137.75 504.4 L138.93 504.72 L140.1 505.03 L141.24 505.34 L142.38 505.66 L143.49 505.97 L144.59 506.28 L145.68 506.59 L146.76 506.91 L147.82 507.22 L148.88 507.53 L149.92 507.85 L150.96 508.16 L151.99 508.47 L153.01 508.79 L154.03 509.1 L155.05 509.41 L156.06 509.72 L157.07 510.04 L158.08 510.35 L159.09 510.66 L160.09 510.98 L161.1 511.29 L162.11 511.6 L163.11 511.92 L164.11 512.23 L165.12 512.54 L166.12 512.85 L167.11 513.17 L168.11 513.48 L169.1 513.79 L170.1 514.11 L171.08 514.42 L172.07 514.73 L173.06 515.05 L174.04 515.36 L175.01 515.67 L175.99 515.99 L176.96 516.3 L177.93 516.61 L178.89 516.92 L179.85 517.24 L180.81 517.55 L181.76 517.86 L182.71 518.18 L183.66 518.49 L184.59 518.8 L185.53 519.12 L186.46 519.43 L187.38 519.74 L188.3 520.05 L189.22 520.37 L190.13 520.68 L191.03 520.99 L191.93 521.31 L192.82 521.62 L193.7 521.93 L194.58 522.25 L195.45 522.56 L196.32 522.87 L197.18 523.18 L198.03 523.5 L198.87 523.81 L199.71 524.12 L200.54 524.44 L201.36 524.75 L202.18 525.06 L202.99 525.38 L203.79 525.69 L204.58 526 L205.36 526.32 L206.14 526.63 L206.9 526.94 L207.66 527.25 L208.41 527.57 L209.16 527.88 L209.89 528.19 L210.62 528.51 L211.34 528.82 L212.06 529.13 L212.77 529.45 L213.47 529.76 L214.16 530.07 L214.85 530.38 L215.53 530.7 L216.2 531.01 L216.86 531.32 L217.52 531.64 L218.18 531.95 L218.82 532.26 L219.47 532.58 L220.1 532.89 L220.73 533.2 L221.35 533.51 L221.97 533.83 L222.58 534.14 L223.19 534.45 L223.79 534.77 L224.38 535.08 L224.97 535.39 L225.56 535.71 L226.14 536.02 L226.71 536.33 L227.28 536.64 L227.85 536.96 L228.41 537.27 L228.96 537.58 L229.51 537.9 L230.06 538.21 L230.6 538.52 L231.14 538.84 L231.67 539.15 L232.2 539.46 L232.73 539.78 L233.25 540.09 L233.77 540.4 L234.28 540.71 L234.79 541.03 L235.29 541.34 L235.79 541.65 L236.29 541.97 L236.78 542.28 L237.27 542.59 L237.75 542.91 L238.23 543.22 L238.71 543.53 L239.18 543.84 L239.65 544.16 L240.11 544.47 L240.57 544.78 L241.03 545.1 L241.48 545.41 L241.93 545.72 L242.37 546.04 L242.81 546.35 L243.25 546.66 L243.68 546.97 L244.11 547.29 L244.53 547.6 L244.96 547.91 L245.37 548.23 L245.79 548.54 L246.2 548.85 L246.6 549.17 L247.01 549.48 L247.41 549.79 L247.8 550.1 L248.19 550.42 L248.58 550.73 L248.97 551.04 L249.35 551.36 L249.73 551.67 L250.1 551.98 L250.47 552.3 L250.84 552.61 L251.2 552.92 L251.56 553.24 L251.92 553.55 L252.27 553.86 L252.62 554.17 L252.97 554.49 L253.32 554.8 L253.66 555.11 L253.99 555.43 L254.33 555.74 L254.66 556.05 L254.98 556.37 L255.31 556.68 L255.63 556.99 L255.95 557.3 L256.26 557.62 L256.57 557.93 L256.88 558.24 L257.19 558.56 L257.49 558.87 L257.79 559.18 L258.08 559.5 L258.38 559.81 L258.67 560.12 L258.95 560.43 L259.24 560.75 L259.52 561.06 L259.8 561.37 L260.07 561.69 L260.35 562 L260.62 562.31 L260.88 562.63 L261.15 562.94 L261.41 563.25 L261.67 563.56 L261.92 563.88 L262.17 564.19 L262.42 564.5 L262.67 564.82 L262.92 565.13 L263.16 565.44 L263.4 565.76 L263.64 566.07 L263.87 566.38 L264.1 566.7 L264.33 567.01 L264.56 567.32 L264.78 567.63 L265 567.95 L265.22 568.26 L265.44 568.57 L265.65 568.89 L265.86 569.2 L266.07 569.51 L266.28 569.83 L266.48 570.14 L266.68 570.45 L266.88 570.76 L267.08 571.08 L267.28 571.39 L267.47 571.7 L267.66 572.02 L267.85 572.33 L268.03 572.64 L268.22 572.96 L268.4 573.27 L268.58 573.58 L268.76 573.89 L268.93 574.21 L269.1 574.52 L269.27 574.83 L269.44 575.15 L269.61 575.46 L269.78 575.77 L269.94 576.09 L270.1 576.4 L270.26 576.71 L270.41 577.02 L270.57 577.34 L270.72 577.65 L270.87 577.96 L271.02 578.28 L271.17 578.59 L271.32 578.9 L271.46 579.22 L271.6 579.53 L271.74 579.84 L271.88 580.16 L272.02 580.47 L272.15 580.78 L272.28 581.09 L272.42 581.41 L272.55 581.72 L272.67 582.03 L272.8 582.35 L272.93 582.66 L273.05 582.97 L273.17 583.29 L273.29 583.6 L273.41 583.91 L273.53 584.22 L273.64 584.54 L273.76 584.85 L273.87 585.16 L273.98 585.48 L274.09 585.79 L274.2 586.1 L274.31 586.42 L274.41 586.73 L274.52 587.04 L274.62 587.35 L274.72 587.67 L274.82 587.98 L274.92 588.29 L275.02 588.61 L275.12 588.92 L275.21 589.23 L275.31 589.55 L275.4 589.86 L275.49 590.17 L275.58 590.48 L275.67 590.8 L275.76 591.11 L275.85 591.42 L275.94 591.74 L276.02 592.05 L276.11 592.36 L276.19 592.68 L276.27 592.99 L276.36 593.3 L276.44 593.62 L276.52 593.93 L276.6 594.24 L276.67 594.55 L276.75 594.87 L276.83 595.18 L276.9 595.49 L276.98 595.81 L277.05 596.12 L277.13 596.43 L277.2 596.75 L277.27 597.06 L277.34 597.37 L277.41 597.68 L277.48 598 L277.55 598.31 L277.62 598.62 L277.69 598.94 L277.75 599.25 L277.82 599.56 L277.89 599.88 L277.95 600.19 L278.02 600.5 L278.08 600.81 L278.15 601.13 L278.21 601.44 L278.28 601.75 L278.34 602.07 L278.4 602.38 L278.46 602.69 L278.53 603.01 L278.59 603.32 L278.65 603.63 L278.71 603.95 L278.77 604.26 L278.83 604.57 L278.89 604.88 L278.95 605.2 L279.01 605.51 L279.07 605.82 L279.13 606.14 L279.19 606.45 L279.25 606.76 L279.31 607.08 L279.37 607.39 L279.43 607.7 L279.48 608.01 L279.54 608.33 L279.6 608.64 L279.66 608.95 L279.72 609.27 L279.78 609.58 L279.84 609.89 L279.9 610.21 L279.96 610.52 L280.02 610.83 L280.08 611.14 L280.14 611.46 L280.2 611.77 L280.26 612.08 L280.32 612.4" fill="none" stroke="#0000aa" stroke-width="1.9" stroke-dasharray="4.3 3.77"/>
<path d="M56.3 487.5 L58.76 487.85 L61.09 488.21 L63.3 488.56 L65.4 488.92 L67.41 489.27 L69.32 489.62 L71.15 489.98 L72.91 490.33 L74.59 490.68 L76.22 491.04 L77.8 491.39 L79.33 491.75 L80.83 492.1 L82.3 492.45 L83.76 492.81 L85.2 493.16 L86.64 493.52 L88.09 493.87 L89.56 494.22 L91.04 494.58 L92.56 494.93 L94.12 495.29 L95.72 495.64 L97.38 495.99 L99.1 496.35 L100.89 496.7 L102.75 497.05 L104.67 497.41 L106.62 497.76 L108.59 498.12 L110.57 498.47 L112.53 498.82 L114.47 499.18 L116.37 499.53 L118.21 499.89 L120 500.24 L121.74 500.59 L123.43 500.95 L125.07 501.3 L126.68 501.66 L128.24 502.01 L129.76 502.36 L131.24 502.72 L132.69 503.07 L134.1 503.42 L135.48 503.78 L136.84 504.13 L138.16 504.49 L139.46 504.84 L140.74 505.19 L141.99 505.55 L143.22 505.9 L144.44 506.26 L145.64 506.61 L146.83 506.96 L148 507.32 L149.17 507.67 L150.33 508.03 L151.48 508.38 L152.63 508.73 L153.77 509.09 L154.92 509.44 L156.07 509.79 L157.23 510.15 L158.39 510.5 L159.55 510.86 L160.73 511.21 L161.9 511.56 L163.09 511.92 L164.28 512.27 L165.47 512.63 L166.66 512.98 L167.86 513.33 L169.07 513.69 L170.27 514.04 L171.48 514.39 L172.69 514.75 L173.9 515.1 L175.11 515.46 L176.32 515.81 L177.54 516.16 L178.75 516.52 L179.96 516.87 L181.17 517.23 L182.37 517.58 L183.58 517.93 L184.78 518.29 L185.98 518.64 L187.17 519 L188.37 519.35 L189.55 519.7 L190.73 520.06 L191.91 520.41 L193.08 520.76 L194.25 521.12 L195.41 521.47 L196.56 521.83 L197.7 522.18 L198.84 522.53 L199.96 522.89 L201.08 523.24 L202.19 523.6 L203.29 523.95 L204.38 524.3 L205.46 524.66 L206.53 525.01 L207.58 525.37 L208.63 525.72 L209.66 526.07 L210.68 526.43 L211.69 526.78 L212.68 527.13 L213.66 527.49 L214.62 527.84 L215.57 528.2 L216.51 528.55 L217.42 528.9 L218.33 529.26 L219.21 529.61 L220.09 529.97 L220.94 530.32 L221.79 530.67 L222.62 531.03 L223.44 531.38 L224.24 531.73 L225.04 532.09 L225.82 532.44 L226.59 532.8 L227.35 533.15 L228.11 533.5 L228.85 533.86 L229.58 534.21 L230.31 534.57 L231.03 534.92 L231.74 535.27 L232.44 535.63 L233.14 535.98 L233.83 536.34 L234.52 536.69 L235.2 537.04 L235.87 537.4 L236.54 537.75 L237.21 538.1 L237.87 538.46 L238.53 538.81 L239.18 539.17 L239.83 539.52 L240.47 539.87 L241.11 540.23 L241.75 540.58 L242.37 540.94 L243 541.29 L243.62 541.64 L244.23 542 L244.84 542.35 L245.45 542.71 L246.05 543.06 L246.65 543.41 L247.24 543.77 L247.83 544.12 L248.41 544.47 L248.99 544.83 L249.57 545.18 L250.14 545.54 L250.7 545.89 L251.26 546.24 L251.82 546.6 L252.37 546.95 L252.92 547.31 L253.47 547.66 L254.01 548.01 L254.54 548.37 L255.07 548.72 L255.6 549.08 L256.12 549.43 L256.64 549.78 L257.16 550.14 L257.67 550.49 L258.17 550.84 L258.68 551.2 L259.17 551.55 L259.67 551.91 L260.16 552.26 L260.64 552.61 L261.12 552.97 L261.6 553.32 L262.08 553.68 L262.54 554.03 L263.01 554.38 L263.47 554.74 L263.93 555.09 L264.38 555.44 L264.83 555.8 L265.28 556.15 L265.72 556.51 L266.16 556.86 L266.59 557.21 L267.03 557.57 L267.45 557.92 L267.88 558.28 L268.29 558.63 L268.71 558.98 L269.12 559.34 L269.53 559.69 L269.94 560.05 L270.34 560.4 L270.73 560.75 L271.13 561.11 L271.52 561.46 L271.9 561.81 L272.29 562.17 L272.67 562.52 L273.04 562.88 L273.41 563.23 L273.78 563.58 L274.15 563.94 L274.51 564.29 L274.87 564.65 L275.22 565 L275.57 565.35 L275.92 565.71 L276.27 566.06 L276.61 566.42 L276.94 566.77 L277.28 567.12 L277.61 567.48 L277.94 567.83 L278.26 568.18 L278.58 568.54 L278.9 568.89 L279.22 569.25 L279.53 569.6 L279.84 569.95 L280.14 570.31 L280.45 570.66 L280.74 571.02 L281.04 571.37 L281.33 571.72 L281.62 572.08 L281.91 572.43 L282.19 572.79 L282.47 573.14 L282.75 573.49 L283.03 573.85 L283.3 574.2 L283.57 574.55 L283.83 574.91 L284.1 575.26 L284.36 575.62 L284.61 575.97 L284.87 576.32 L285.12 576.68 L285.37 577.03 L285.61 577.39 L285.86 577.74 L286.1 578.09 L286.33 578.45 L286.57 578.8 L286.8 579.15 L287.03 579.51 L287.25 579.86 L287.48 580.22 L287.7 580.57 L287.92 580.92 L288.13 581.28 L288.35 581.63 L288.56 581.99 L288.77 582.34 L288.97 582.69 L289.18 583.05 L289.38 583.4 L289.57 583.76 L289.77 584.11 L289.96 584.46 L290.15 584.82 L290.34 585.17 L290.53 585.52 L290.71 585.88 L290.89 586.23 L291.07 586.59 L291.25 586.94 L291.42 587.29 L291.59 587.65 L291.76 588 L291.93 588.36 L292.1 588.71 L292.26 589.06 L292.42 589.42 L292.58 589.77 L292.73 590.13 L292.89 590.48 L293.04 590.83 L293.19 591.19 L293.34 591.54 L293.48 591.89 L293.63 592.25 L293.77 592.6 L293.91 592.96 L294.04 593.31 L294.18 593.66 L294.31 594.02 L294.44 594.37 L294.57 594.73 L294.7 595.08 L294.83 595.43 L294.95 595.79 L295.07 596.14 L295.19 596.5 L295.31 596.85 L295.43 597.2 L295.54 597.56 L295.66 597.91 L295.77 598.26 L295.88 598.62 L295.98 598.97 L296.09 599.33 L296.19 599.68 L296.3 600.03 L296.4 600.39 L296.5 600.74 L296.6 601.1 L296.69 601.45 L296.79 601.8 L296.88 602.16 L296.97 602.51 L297.06 602.86 L297.15 603.22 L297.24 603.57 L297.32 603.93 L297.4 604.28 L297.49 604.63 L297.57 604.99 L297.65 605.34 L297.73 605.7 L297.8 606.05 L297.88 606.4 L297.95 606.76 L298.02 607.11 L298.1 607.47 L298.17 607.82 L298.24 608.17 L298.3 608.53 L298.37 608.88 L298.43 609.23 L298.5 609.59 L298.56 609.94 L298.62 610.3 L298.68 610.65 L298.74 611 L298.8 611.36 L298.86 611.71 L298.92 612.07 L298.97 612.42 L299.02 612.77 L299.08 613.13 L299.13 613.48 L299.18 613.84 L299.23 614.19 L299.28 614.54 L299.33 614.9 L299.38 615.25 L299.42 615.6 L299.47 615.96 L299.51 616.31 L299.56 616.67 L299.6 617.02 L299.64 617.37 L299.68 617.73 L299.72 618.08 L299.76 618.44 L299.8 618.79 L299.84 619.14 L299.88 619.5 L299.92 619.85 L299.95 620.2 L299.99 620.56 L300.02 620.91 L300.06 621.27 L300.09 621.62 L300.13 621.97 L300.16 622.33 L300.19 622.68 L300.22 623.04 L300.26 623.39 L300.29 623.74 L300.32 624.1 L300.35 624.45 L300.38 624.81 L300.41 625.16 L300.43 625.51 L300.46 625.87 L300.49 626.22 L300.52 626.57 L300.55 626.93 L300.57 627.28 L300.6 627.64 L300.63 627.99 L300.65 628.34 L300.68 628.7" fill="none" stroke="#000000" stroke-width="1.9" stroke-dasharray="1.24 3.79"/>
<path d="M56.3 487.5 L59.12 487.91 L61.77 488.31 L64.29 488.72 L66.67 489.13 L68.92 489.53 L71.07 489.94 L73.12 490.35 L75.07 490.75 L76.96 491.16 L78.77 491.57 L80.53 491.97 L82.25 492.38 L83.94 492.78 L85.61 493.19 L87.26 493.6 L88.93 494 L90.6 494.41 L92.3 494.82 L94.04 495.22 L95.83 495.63 L97.68 496.04 L99.59 496.44 L101.59 496.85 L103.66 497.26 L105.79 497.66 L107.94 498.07 L110.12 498.48 L112.29 498.88 L114.45 499.29 L116.57 499.7 L118.65 500.1 L120.68 500.51 L122.68 500.92 L124.63 501.32 L126.54 501.73 L128.41 502.14 L130.25 502.54 L132.04 502.95 L133.79 503.35 L135.51 503.76 L137.18 504.17 L138.82 504.57 L140.42 504.98 L141.99 505.39 L143.51 505.79 L145.01 506.2 L146.46 506.61 L147.9 507.01 L149.3 507.42 L150.69 507.83 L152.06 508.23 L153.42 508.64 L154.78 509.05 L156.13 509.45 L157.49 509.86 L158.85 510.27 L160.22 510.67 L161.61 511.08 L163 511.49 L164.4 511.89 L165.81 512.3 L167.23 512.71 L168.65 513.11 L170.08 513.52 L171.51 513.92 L172.95 514.33 L174.39 514.74 L175.84 515.14 L177.28 515.55 L178.73 515.96 L180.18 516.36 L181.62 516.77 L183.07 517.18 L184.51 517.58 L185.95 517.99 L187.39 518.4 L188.83 518.8 L190.25 519.21 L191.68 519.62 L193.09 520.02 L194.5 520.43 L195.9 520.84 L197.3 521.24 L198.68 521.65 L200.05 522.06 L201.42 522.46 L202.77 522.87 L204.11 523.27 L205.43 523.68 L206.75 524.09 L208.06 524.49 L209.35 524.9 L210.64 525.31 L211.91 525.71 L213.17 526.12 L214.42 526.53 L215.66 526.93 L216.88 527.34 L218.1 527.75 L219.3 528.15 L220.5 528.56 L221.68 528.97 L222.85 529.37 L224.01 529.78 L225.15 530.19 L226.29 530.59 L227.41 531 L228.53 531.41 L229.63 531.81 L230.72 532.22 L231.8 532.63 L232.87 533.03 L233.93 533.44 L234.98 533.84 L236.01 534.25 L237.04 534.66 L238.06 535.06 L239.07 535.47 L240.07 535.88 L241.06 536.28 L242.04 536.69 L243.01 537.1 L243.97 537.5 L244.92 537.91 L245.87 538.32 L246.81 538.72 L247.73 539.13 L248.65 539.54 L249.57 539.94 L250.47 540.35 L251.37 540.76 L252.26 541.16 L253.14 541.57 L254.01 541.98 L254.88 542.38 L255.74 542.79 L256.59 543.2 L257.44 543.6 L258.28 544.01 L259.12 544.41 L259.95 544.82 L260.77 545.23 L261.59 545.63 L262.4 546.04 L263.21 546.45 L264.01 546.85 L264.81 547.26 L265.6 547.67 L266.38 548.07 L267.16 548.48 L267.93 548.89 L268.69 549.29 L269.45 549.7 L270.2 550.11 L270.95 550.51 L271.68 550.92 L272.41 551.33 L273.13 551.73 L273.85 552.14 L274.55 552.55 L275.25 552.95 L275.94 553.36 L276.62 553.77 L277.29 554.17 L277.95 554.58 L278.61 554.98 L279.25 555.39 L279.89 555.8 L280.51 556.2 L281.13 556.61 L281.73 557.02 L282.33 557.42 L282.92 557.83 L283.49 558.24 L284.05 558.64 L284.61 559.05 L285.15 559.46 L285.69 559.86 L286.21 560.27 L286.73 560.68 L287.24 561.08 L287.74 561.49 L288.24 561.9 L288.74 562.3 L289.22 562.71 L289.71 563.12 L290.19 563.52 L290.67 563.93 L291.14 564.33 L291.61 564.74 L292.08 565.15 L292.54 565.55 L293 565.96 L293.45 566.37 L293.9 566.77 L294.35 567.18 L294.8 567.59 L295.24 567.99 L295.67 568.4 L296.11 568.81 L296.54 569.21 L296.97 569.62 L297.39 570.03 L297.81 570.43 L298.23 570.84 L298.64 571.25 L299.05 571.65 L299.46 572.06 L299.86 572.47 L300.26 572.87 L300.65 573.28 L301.05 573.69 L301.44 574.09 L301.82 574.5 L302.21 574.9 L302.59 575.31 L302.96 575.72 L303.34 576.12 L303.71 576.53 L304.07 576.94 L304.44 577.34 L304.8 577.75 L305.15 578.16 L305.51 578.56 L305.86 578.97 L306.21 579.38 L306.55 579.78 L306.89 580.19 L307.23 580.6 L307.57 581 L307.9 581.41 L308.23 581.82 L308.55 582.22 L308.88 582.63 L309.2 583.04 L309.52 583.44 L309.83 583.85 L310.14 584.26 L310.45 584.66 L310.76 585.07 L311.06 585.47 L311.36 585.88 L311.66 586.29 L311.95 586.69 L312.24 587.1 L312.53 587.51 L312.82 587.91 L313.1 588.32 L313.38 588.73 L313.66 589.13 L313.93 589.54 L314.2 589.95 L314.47 590.35 L314.74 590.76 L315 591.17 L315.26 591.57 L315.52 591.98 L315.78 592.39 L316.03 592.79 L316.28 593.2 L316.53 593.61 L316.78 594.01 L317.02 594.42 L317.26 594.82 L317.5 595.23 L317.73 595.64 L317.97 596.04 L318.2 596.45 L318.43 596.86 L318.65 597.26 L318.87 597.67 L319.09 598.08 L319.31 598.48 L319.53 598.89 L319.74 599.3 L319.95 599.7 L320.16 600.11 L320.37 600.52 L320.57 600.92 L320.78 601.33 L320.98 601.74 L321.17 602.14 L321.37 602.55 L321.56 602.96 L321.75 603.36 L321.94 603.77 L322.13 604.18 L322.31 604.58 L322.49 604.99 L322.67 605.39 L322.85 605.8 L323.02 606.21 L323.2 606.61 L323.37 607.02 L323.54 607.43 L323.71 607.83 L323.87 608.24 L324.03 608.65 L324.2 609.05 L324.35 609.46 L324.51 609.87 L324.67 610.27 L324.82 610.68 L324.97 611.09 L325.12 611.49 L325.27 611.9 L325.41 612.31 L325.56 612.71 L325.7 613.12 L325.84 613.53 L325.98 613.93 L326.11 614.34 L326.25 614.75 L326.38 615.15 L326.51 615.56 L326.64 615.96 L326.77 616.37 L326.9 616.78 L327.02 617.18 L327.14 617.59 L327.26 618 L327.38 618.4 L327.5 618.81 L327.62 619.22 L327.73 619.62 L327.84 620.03 L327.95 620.44 L328.06 620.84 L328.17 621.25 L328.28 621.66 L328.38 622.06 L328.49 622.47 L328.59 622.88 L328.69 623.28 L328.79 623.69 L328.89 624.1 L328.98 624.5 L329.08 624.91 L329.17 625.31 L329.26 625.72 L329.35 626.13 L329.44 626.53 L329.53 626.94 L329.62 627.35 L329.7 627.75 L329.79 628.16 L329.87 628.57 L329.95 628.97 L330.03 629.38 L330.11 629.79 L330.19 630.19 L330.26 630.6 L330.34 631.01 L330.41 631.41 L330.49 631.82 L330.56 632.23 L330.63 632.63 L330.7 633.04 L330.77 633.45 L330.84 633.85 L330.9 634.26 L330.97 634.67 L331.03 635.07 L331.1 635.48 L331.16 635.88 L331.22 636.29 L331.28 636.7 L331.34 637.1 L331.4 637.51 L331.46 637.92 L331.51 638.32 L331.57 638.73 L331.62 639.14 L331.68 639.54 L331.73 639.95 L331.78 640.36 L331.83 640.76 L331.89 641.17 L331.94 641.58 L331.98 641.98 L332.03 642.39 L332.08 642.8 L332.13 643.2 L332.17 643.61 L332.22 644.02 L332.26 644.42 L332.31 644.83 L332.35 645.24 L332.4 645.64 L332.44 646.05 L332.48 646.45 L332.52 646.86 L332.56 647.27 L332.6 647.67 L332.64 648.08 L332.68 648.49 L332.72 648.89 L332.76 649.3 L332.79 649.71" fill="none" stroke="#b40000" stroke-width="1.9" stroke-dasharray="1.24 4.01 4.11 3.63"/>
<path d="M78.8 586.6 L98.6 586.6" fill="none" stroke="#00a300" stroke-width="1.9"/>
<text x="103.7" y="590.2" font-size="8.9" font-family="'Liberation Sans', sans-serif" textLength="35.5" lengthAdjust="spacingAndGlyphs">&#947;=1&#215;10<tspan dy="-3.56" font-size="6.14">2</tspan></text>
<path d="M61.7 604.7 L98.6 604.7" fill="none" stroke="#0000aa" stroke-width="1.9" stroke-dasharray="4.3 3.77"/>
<text x="105.9" y="608.3" font-size="8.9" font-family="'Liberation Sans', sans-serif" textLength="35.5" lengthAdjust="spacingAndGlyphs">&#947;=3&#215;10<tspan dy="-3.56" font-size="6.14">2</tspan></text>
<path d="M61.7 622.2 L98.6 622.2" fill="none" stroke="#000000" stroke-width="1.9" stroke-dasharray="1.24 3.79"/>
<text x="105.9" y="625.8" font-size="8.9" font-family="'Liberation Sans', sans-serif" textLength="35.5" lengthAdjust="spacingAndGlyphs">&#947;=4&#215;10<tspan dy="-3.56" font-size="6.14">2</tspan></text>
<path d="M61.7 640.6 L98.6 640.6" fill="none" stroke="#b40000" stroke-width="1.9" stroke-dasharray="1.24 4.01 4.11 3.63"/>
<text x="105.9" y="644.2" font-size="8.9" font-family="'Liberation Sans', sans-serif" textLength="35.5" lengthAdjust="spacingAndGlyphs">&#947;=5&#215;10<tspan dy="-3.56" font-size="6.14">2</tspan></text>
<text transform="translate(15.7 580.3) rotate(-90)" font-size="10" font-family="'Liberation Sans', sans-serif">10<tspan dy="-4.8" font-size="7">15</tspan><tspan dy="4.8" dx="1.3">&#968;</tspan></text>
<text transform="translate(196.3 689) scale(0.86 1)" font-size="11" text-anchor="middle" font-family="'Liberation Sans', sans-serif">&#951;</text>
<path d="M399.5 658.5 V655 M399.5 478.5 V482 M452.5 658.5 V655 M452.5 478.5 V482 M506.5 658.5 V655 M506.5 478.5 V482 M559.5 658.5 V655 M559.5 478.5 V482 M612.5 658.5 V655 M612.5 478.5 V482 M665.5 658.5 V655 M665.5 478.5 V482" stroke="#555555" stroke-width="1" fill="none"/>
<path d="M399.5 658.5 V656.3 M399.5 478.5 V480.7 M412.5 658.5 V656.3 M412.5 478.5 V480.7 M426.5 658.5 V656.3 M426.5 478.5 V480.7 M439.5 658.5 V656.3 M439.5 478.5 V480.7 M452.5 658.5 V656.3 M452.5 478.5 V480.7 M466.5 658.5 V656.3 M466.5 478.5 V480.7 M479.5 658.5 V656.3 M479.5 478.5 V480.7 M492.5 658.5 V656.3 M492.5 478.5 V480.7 M506.5 658.5 V656.3 M506.5 478.5 V480.7 M519.5 658.5 V656.3 M519.5 478.5 V480.7 M532.5 658.5 V656.3 M532.5 478.5 V480.7 M545.5 658.5 V656.3 M545.5 478.5 V480.7 M559.5 658.5 V656.3 M559.5 478.5 V480.7 M572.5 658.5 V656.3 M572.5 478.5 V480.7 M585.5 658.5 V656.3 M585.5 478.5 V480.7 M599.5 658.5 V656.3 M599.5 478.5 V480.7 M612.5 658.5 V656.3 M612.5 478.5 V480.7 M625.5 658.5 V656.3 M625.5 478.5 V480.7 M639.5 658.5 V656.3 M639.5 478.5 V480.7 M652.5 658.5 V656.3 M652.5 478.5 V480.7 M665.5 658.5 V656.3 M665.5 478.5 V480.7 M679.5 658.5 V656.3 M679.5 478.5 V480.7" stroke="#8a8a8a" stroke-width="1" fill="none"/>
<path d="M393 642.5 H396.5 M683.5 642.5 H680 M393 615.5 H396.5 M683.5 615.5 H680 M393 588.5 H396.5 M683.5 588.5 H680 M393 562.5 H396.5 M683.5 562.5 H680 M393 535.5 H396.5 M683.5 535.5 H680 M393 508.5 H396.5 M683.5 508.5 H680 M393 481.5 H396.5 M683.5 481.5 H680" stroke="#555555" stroke-width="1" fill="none"/>
<path d="M393 656.5 H395.2 M683.5 656.5 H681.3 M393 653.5 H395.2 M683.5 653.5 H681.3 M393 650.5 H395.2 M683.5 650.5 H681.3 M393 648.5 H395.2 M683.5 648.5 H681.3 M393 646.5 H395.2 M683.5 646.5 H681.3 M393 645.5 H395.2 M683.5 645.5 H681.3 M393 643.5 H395.2 M683.5 643.5 H681.3 M393 634.5 H395.2 M683.5 634.5 H681.3 M393 629.5 H395.2 M683.5 629.5 H681.3 M393 626.5 H395.2 M683.5 626.5 H681.3 M393 623.5 H395.2 M683.5 623.5 H681.3 M393 621.5 H395.2 M683.5 621.5 H681.3 M393 619.5 H395.2 M683.5 619.5 H681.3 M393 618.5 H395.2 M683.5 618.5 H681.3 M393 617.5 H395.2 M683.5 617.5 H681.3 M393 607.5 H395.2 M683.5 607.5 H681.3 M393 602.5 H395.2 M683.5 602.5 H681.3 M393 599.5 H395.2 M683.5 599.5 H681.3 M393 596.5 H395.2 M683.5 596.5 H681.3 M393 594.5 H395.2 M683.5 594.5 H681.3 M393 593.5 H395.2 M683.5 593.5 H681.3 M393 591.5 H395.2 M683.5 591.5 H681.3 M393 590.5 H395.2 M683.5 590.5 H681.3 M393 580.5 H395.2 M683.5 580.5 H681.3 M393 576.5 H395.2 M683.5 576.5 H681.3 M393 572.5 H395.2 M683.5 572.5 H681.3 M393 570.5 H395.2 M683.5 570.5 H681.3 M393 567.5 H395.2 M683.5 567.5 H681.3 M393 566.5 H395.2 M683.5 566.5 H681.3 M393 564.5 H395.2 M683.5 564.5 H681.3 M393 563.5 H395.2 M683.5 563.5 H681.3 M393 553.5 H395.2 M683.5 553.5 H681.3 M393 549.5 H395.2 M683.5 549.5 H681.3 M393 545.5 H395.2 M683.5 545.5 H681.3 M393 543.5 H395.2 M683.5 543.5 H681.3 M393 541.5 H395.2 M683.5 541.5 H681.3 M393 539.5 H395.2 M683.5 539.5 H681.3 M393 537.5 H395.2 M683.5 537.5 H681.3 M393 536.5 H395.2 M683.5 536.5 H681.3 M393 527.5 H395.2 M683.5 527.5 H681.3 M393 522.5 H395.2 M683.5 522.5 H681.3 M393 518.5 H395.2 M683.5 518.5 H681.3 M393 516.5 H395.2 M683.5 516.5 H681.3 M393 514.5 H395.2 M683.5 514.5 H681.3 M393 512.5 H395.2 M683.5 512.5 H681.3 M393 510.5 H395.2 M683.5 510.5 H681.3 M393 509.5 H395.2 M683.5 509.5 H681.3 M393 500.5 H395.2 M683.5 500.5 H681.3 M393 495.5 H395.2 M683.5 495.5 H681.3 M393 492.5 H395.2 M683.5 492.5 H681.3 M393 489.5 H395.2 M683.5 489.5 H681.3 M393 487.5 H395.2 M683.5 487.5 H681.3 M393 485.5 H395.2 M683.5 485.5 H681.3 M393 483.5 H395.2 M683.5 483.5 H681.3 M393 482.5 H395.2 M683.5 482.5 H681.3" stroke="#8a8a8a" stroke-width="1" fill="none"/>
<rect x="393.0" y="478.5" width="290.5" height="180.0" fill="none" stroke="#626262" stroke-width="1"/>
<text transform="translate(390.8 646.1) scale(0.86 1)" font-size="10.5" text-anchor="end" font-family="'Liberation Sans', sans-serif">10<tspan dy="-4.5" font-size="7.5">-5</tspan></text>
<text transform="translate(390.8 619.2) scale(0.86 1)" font-size="10.5" text-anchor="end" font-family="'Liberation Sans', sans-serif">10<tspan dy="-4.5" font-size="7.5">-4</tspan></text>
<text transform="translate(390.8 592.3) scale(0.86 1)" font-size="10.5" text-anchor="end" font-family="'Liberation Sans', sans-serif">0.001</text>
<text transform="translate(390.8 565.4) scale(0.86 1)" font-size="10.5" text-anchor="end" font-family="'Liberation Sans', sans-serif">0.010</text>
<text transform="translate(390.8 538.5) scale(0.86 1)" font-size="10.5" text-anchor="end" font-family="'Liberation Sans', sans-serif">0.100</text>
<text transform="translate(390.8 511.6) scale(0.86 1)" font-size="10.5" text-anchor="end" font-family="'Liberation Sans', sans-serif">1</text>
<text transform="translate(390.8 484.7) scale(0.86 1)" font-size="10.5" text-anchor="end" font-family="'Liberation Sans', sans-serif">10</text>
<text transform="translate(399.5 670.5) scale(0.86 1)" font-size="10.5" text-anchor="middle" font-family="'Liberation Sans', sans-serif">0.0</text>
<text transform="translate(452.76 670.5) scale(0.86 1)" font-size="10.5" text-anchor="middle" font-family="'Liberation Sans', sans-serif">0.2</text>
<text transform="translate(506.02 670.5) scale(0.86 1)" font-size="10.5" text-anchor="middle" font-family="'Liberation Sans', sans-serif">0.4</text>
<text transform="translate(559.28 670.5) scale(0.86 1)" font-size="10.5" text-anchor="middle" font-family="'Liberation Sans', sans-serif">0.6</text>
<text transform="translate(612.54 670.5) scale(0.86 1)" font-size="10.5" text-anchor="middle" font-family="'Liberation Sans', sans-serif">0.8</text>
<text transform="translate(665.8 670.5) scale(0.86 1)" font-size="10.5" text-anchor="middle" font-family="'Liberation Sans', sans-serif">1.0</text>
<path d="M400.7 649.61 L400.71 649.23 L400.73 648.85 L400.75 648.47 L400.77 648.08 L400.79 647.7 L400.82 647.32 L400.84 646.93 L400.87 646.55 L400.89 646.17 L400.92 645.79 L400.95 645.4 L400.98 645.02 L401.01 644.64 L401.05 644.26 L401.08 643.87 L401.12 643.49 L401.15 643.11 L401.19 642.72 L401.23 642.34 L401.27 641.96 L401.31 641.58 L401.35 641.19 L401.39 640.81 L401.44 640.43 L401.48 640.04 L401.53 639.66 L401.57 639.28 L401.62 638.9 L401.67 638.51 L401.71 638.13 L401.76 637.75 L401.81 637.37 L401.87 636.98 L401.92 636.6 L401.97 636.22 L402.02 635.83 L402.08 635.45 L402.13 635.07 L402.18 634.69 L402.24 634.3 L402.3 633.92 L402.35 633.54 L402.41 633.16 L402.47 632.77 L402.53 632.39 L402.58 632.01 L402.64 631.62 L402.7 631.24 L402.76 630.86 L402.82 630.48 L402.88 630.09 L402.94 629.71 L403 629.33 L403.06 628.95 L403.13 628.56 L403.19 628.18 L403.25 627.8 L403.31 627.41 L403.38 627.03 L403.44 626.65 L403.51 626.27 L403.58 625.88 L403.65 625.5 L403.73 625.12 L403.8 624.74 L403.87 624.35 L403.95 623.97 L404.03 623.59 L404.11 623.2 L404.19 622.82 L404.27 622.44 L404.36 622.06 L404.45 621.67 L404.53 621.29 L404.62 620.91 L404.71 620.53 L404.81 620.14 L404.9 619.76 L405 619.38 L405.1 618.99 L405.2 618.61 L405.3 618.23 L405.4 617.85 L405.5 617.46 L405.61 617.08 L405.72 616.7 L405.83 616.32 L405.94 615.93 L406.06 615.55 L406.17 615.17 L406.29 614.78 L406.41 614.4 L406.53 614.02 L406.65 613.64 L406.78 613.25 L406.91 612.87 L407.03 612.49 L407.17 612.11 L407.3 611.72 L407.44 611.34 L407.58 610.96 L407.73 610.57 L407.88 610.19 L408.04 609.81 L408.2 609.43 L408.37 609.04 L408.55 608.66 L408.73 608.28 L408.91 607.9 L409.1 607.51 L409.3 607.13 L409.49 606.75 L409.7 606.36 L409.9 605.98 L410.12 605.6 L410.33 605.22 L410.55 604.83 L410.77 604.45 L411 604.07 L411.23 603.69 L411.46 603.3 L411.7 602.92 L411.94 602.54 L412.18 602.15 L412.43 601.77 L412.67 601.39 L412.93 601.01 L413.18 600.62 L413.43 600.24 L413.69 599.86 L413.95 599.48 L414.22 599.09 L414.48 598.71 L414.75 598.33 L415.01 597.94 L415.28 597.56 L415.56 597.18 L415.83 596.8 L416.11 596.41 L416.4 596.03 L416.69 595.65 L416.99 595.26 L417.29 594.88 L417.59 594.5 L417.91 594.12 L418.22 593.73 L418.55 593.35 L418.88 592.97 L419.21 592.59 L419.55 592.2 L419.9 591.82 L420.25 591.44 L420.61 591.05 L420.97 590.67 L421.34 590.29 L421.72 589.91 L422.1 589.52 L422.49 589.14 L422.89 588.76 L423.29 588.38 L423.7 587.99 L424.12 587.61 L424.54 587.23 L424.97 586.84 L425.41 586.46 L425.86 586.08 L426.32 585.7 L426.8 585.31 L427.29 584.93 L427.8 584.55 L428.33 584.17 L428.87 583.78 L429.42 583.4 L429.99 583.02 L430.57 582.63 L431.16 582.25 L431.76 581.87 L432.37 581.49 L432.99 581.1 L433.62 580.72 L434.25 580.34 L434.89 579.96 L435.54 579.57 L436.19 579.19 L436.85 578.81 L437.51 578.42 L438.18 578.04 L438.84 577.66 L439.51 577.28 L440.18 576.89 L440.86 576.51 L441.54 576.13 L442.24 575.75 L442.94 575.36 L443.65 574.98 L444.37 574.6 L445.1 574.21 L445.84 573.83 L446.58 573.45 L447.34 573.07 L448.1 572.68 L448.87 572.3 L449.65 571.92 L450.44 571.54 L451.23 571.15 L452.04 570.77 L452.85 570.39 L453.67 570 L454.5 569.62 L455.34 569.24 L456.19 568.86 L457.05 568.47 L457.92 568.09 L458.81 567.71 L459.71 567.33 L460.62 566.94 L461.55 566.56 L462.49 566.18 L463.44 565.79 L464.4 565.41 L465.36 565.03 L466.34 564.65 L467.33 564.26 L468.32 563.88 L469.32 563.5 L470.32 563.12 L471.33 562.73 L472.35 562.35 L473.37 561.97 L474.39 561.58 L475.41 561.2 L476.43 560.82 L477.46 560.44 L478.49 560.05 L479.53 559.67 L480.58 559.29 L481.63 558.91 L482.7 558.52 L483.76 558.14 L484.84 557.76 L485.92 557.37 L487.01 556.99 L488.1 556.61 L489.21 556.23 L490.31 555.84 L491.43 555.46 L492.55 555.08 L493.67 554.69 L494.81 554.31 L495.95 553.93 L497.09 553.55 L498.24 553.16 L499.39 552.78 L500.55 552.4 L501.72 552.02 L502.88 551.63 L504.06 551.25 L505.25 550.87 L506.44 550.48 L507.64 550.1 L508.86 549.72 L510.08 549.34 L511.32 548.95 L512.57 548.57 L513.83 548.19 L515.11 547.81 L516.4 547.42 L517.71 547.04 L519.05 546.66 L520.43 546.27 L521.84 545.89 L523.27 545.51 L524.73 545.13 L526.2 544.74 L527.69 544.36 L529.18 543.98 L530.67 543.6 L532.15 543.21 L533.62 542.83 L535.08 542.45 L536.51 542.06 L537.92 541.68 L539.29 541.3 L540.63 540.92 L541.96 540.53 L543.26 540.15 L544.55 539.77 L545.82 539.39 L547.07 539 L548.3 538.62 L549.5 538.24 L550.69 537.85 L551.86 537.47 L553.01 537.09 L554.14 536.71 L555.26 536.32 L556.36 535.94 L557.45 535.56 L558.52 535.18 L559.57 534.79 L560.61 534.41 L561.64 534.03 L562.66 533.64 L563.67 533.26 L564.67 532.88 L565.66 532.5 L566.63 532.11 L567.58 531.73 L568.51 531.35 L569.42 530.97 L570.3 530.58 L571.16 530.2 L572 529.82 L572.83 529.43 L573.64 529.05 L574.43 528.67 L575.22 528.29 L575.98 527.9 L576.74 527.52 L577.48 527.14 L578.21 526.76 L578.93 526.37 L579.63 525.99 L580.32 525.61 L581 525.22 L581.67 524.84 L582.34 524.46 L582.99 524.08 L583.64 523.69 L584.28 523.31 L584.91 522.93 L585.53 522.55 L586.13 522.16 L586.72 521.78 L587.29 521.4 L587.85 521.01 L588.38 520.63 L588.9 520.25 L589.39 519.87 L589.88 519.48 L590.35 519.1 L590.81 518.72 L591.26 518.34 L591.7 517.95 L592.13 517.57 L592.55 517.19 L592.96 516.8 L593.36 516.42 L593.75 516.04 L594.13 515.66 L594.5 515.27 L594.86 514.89 L595.22 514.51 L595.57 514.13 L595.91 513.74 L596.24 513.36 L596.57 512.98 L596.89 512.59 L597.21 512.21 L597.51 511.83 L597.81 511.45 L598.1 511.06 L598.38 510.68 L598.64 510.3 L598.9 509.91 L599.15 509.53 L599.38 509.15 L599.61 508.77 L599.83 508.38 L600.05 508 L600.26 507.62 L600.46 507.24 L600.66 506.85 L600.85 506.47 L601.04 506.09 L601.22 505.7 L601.4 505.32 L601.58 504.94 L601.75 504.56 L601.93 504.17 L602.1 503.79 L602.27 503.41 L602.44 503.03 L602.6 502.64 L602.77 502.26 L602.93 501.88 L603.09 501.49 L603.25 501.11 L603.4 500.73 L603.56 500.35 L603.71 499.96 L603.86 499.58 L604 499.2 L604.14 498.82 L604.28 498.43 L604.42 498.05 L604.56 497.67 L604.69 497.28 L604.82 496.9" fill="none" stroke="#00a300" stroke-width="1.9"/>
<path d="M400.7 649.61 L400.71 649.23 L400.73 648.84 L400.75 648.45 L400.77 648.06 L400.79 647.67 L400.82 647.29 L400.84 646.9 L400.87 646.51 L400.9 646.12 L400.93 645.74 L400.96 645.35 L400.99 644.96 L401.02 644.57 L401.05 644.19 L401.09 643.8 L401.12 643.41 L401.16 643.02 L401.2 642.63 L401.24 642.25 L401.28 641.86 L401.32 641.47 L401.36 641.08 L401.41 640.7 L401.45 640.31 L401.49 639.92 L401.54 639.53 L401.59 639.14 L401.64 638.76 L401.68 638.37 L401.73 637.98 L401.78 637.59 L401.84 637.21 L401.89 636.82 L401.94 636.43 L401.99 636.04 L402.05 635.66 L402.1 635.27 L402.16 634.88 L402.21 634.49 L402.27 634.1 L402.33 633.72 L402.38 633.33 L402.44 632.94 L402.5 632.55 L402.56 632.17 L402.62 631.78 L402.68 631.39 L402.74 631 L402.8 630.61 L402.86 630.23 L402.92 629.84 L402.98 629.45 L403.05 629.06 L403.11 628.68 L403.17 628.29 L403.23 627.9 L403.3 627.51 L403.36 627.13 L403.43 626.74 L403.5 626.35 L403.57 625.96 L403.64 625.57 L403.71 625.19 L403.79 624.8 L403.86 624.41 L403.94 624.02 L404.02 623.64 L404.1 623.25 L404.18 622.86 L404.27 622.47 L404.35 622.08 L404.44 621.7 L404.53 621.31 L404.62 620.92 L404.71 620.53 L404.81 620.15 L404.9 619.76 L405 619.37 L405.1 618.98 L405.2 618.6 L405.3 618.21 L405.41 617.82 L405.51 617.43 L405.62 617.04 L405.73 616.66 L405.84 616.27 L405.96 615.88 L406.07 615.49 L406.19 615.11 L406.31 614.72 L406.43 614.33 L406.55 613.94 L406.68 613.55 L406.81 613.17 L406.94 612.78 L407.07 612.39 L407.2 612 L407.34 611.62 L407.48 611.23 L407.62 610.84 L407.77 610.45 L407.93 610.07 L408.1 609.68 L408.26 609.29 L408.44 608.9 L408.62 608.51 L408.8 608.13 L408.99 607.74 L409.18 607.35 L409.38 606.96 L409.58 606.58 L409.79 606.19 L410 605.8 L410.22 605.41 L410.44 605.03 L410.66 604.64 L410.89 604.25 L411.12 603.86 L411.36 603.47 L411.59 603.09 L411.84 602.7 L412.08 602.31 L412.33 601.92 L412.58 601.54 L412.83 601.15 L413.09 600.76 L413.35 600.37 L413.61 599.98 L413.87 599.6 L414.14 599.21 L414.4 598.82 L414.67 598.43 L414.94 598.05 L415.22 597.66 L415.49 597.27 L415.77 596.88 L416.05 596.5 L416.34 596.11 L416.63 595.72 L416.93 595.33 L417.24 594.94 L417.55 594.56 L417.86 594.17 L418.18 593.78 L418.51 593.39 L418.84 593.01 L419.18 592.62 L419.53 592.23 L419.88 591.84 L420.23 591.45 L420.6 591.07 L420.97 590.68 L421.34 590.29 L421.72 589.9 L422.11 589.52 L422.51 589.13 L422.91 588.74 L423.32 588.35 L423.73 587.97 L424.16 587.58 L424.59 587.19 L425.02 586.8 L425.47 586.41 L425.92 586.03 L426.39 585.64 L426.88 585.25 L427.38 584.86 L427.9 584.48 L428.44 584.09 L428.99 583.7 L429.55 583.31 L430.13 582.92 L430.72 582.54 L431.32 582.15 L431.93 581.76 L432.55 581.37 L433.18 580.99 L433.82 580.6 L434.46 580.21 L435.12 579.82 L435.78 579.44 L436.44 579.05 L437.11 578.66 L437.78 578.27 L438.45 577.88 L439.13 577.5 L439.81 577.11 L440.49 576.72 L441.17 576.33 L441.87 575.95 L442.58 575.56 L443.3 575.17 L444.02 574.78 L444.75 574.39 L445.5 574.01 L446.25 573.62 L447.01 573.23 L447.78 572.84 L448.56 572.46 L449.34 572.07 L450.14 571.68 L450.94 571.29 L451.75 570.91 L452.57 570.52 L453.4 570.13 L454.24 569.74 L455.09 569.35 L455.94 568.97 L456.81 568.58 L457.69 568.19 L458.58 567.8 L459.49 567.42 L460.42 567.03 L461.35 566.64 L462.3 566.25 L463.26 565.86 L464.23 565.48 L465.21 565.09 L466.2 564.7 L467.2 564.31 L468.2 563.93 L469.21 563.54 L470.23 563.15 L471.25 562.76 L472.28 562.38 L473.31 561.99 L474.34 561.6 L475.38 561.21 L476.42 560.82 L477.46 560.44 L478.5 560.05 L479.55 559.66 L480.6 559.27 L481.67 558.89 L482.73 558.5 L483.81 558.11 L484.89 557.72 L485.98 557.33 L487.08 556.95 L488.18 556.56 L489.29 556.17 L490.42 555.78 L491.55 555.4 L492.69 555.01 L493.84 554.62 L495 554.23 L496.18 553.85 L497.36 553.46 L498.55 553.07 L499.74 552.68 L500.94 552.29 L502.14 551.91 L503.35 551.52 L504.57 551.13 L505.81 550.74 L507.06 550.36 L508.33 549.97 L509.62 549.58 L510.94 549.19 L512.28 548.81 L513.64 548.42 L515.04 548.03 L516.47 547.64 L517.93 547.25 L519.44 546.87 L521.01 546.48 L522.63 546.09 L524.3 545.7 L526 545.32 L527.73 544.93 L529.49 544.54 L531.27 544.15 L533.06 543.76 L534.86 543.38 L536.67 542.99 L538.47 542.6 L540.27 542.21 L542.05 541.83 L543.83 541.44 L545.7 541.05 L547.6 540.66 L549.45 540.28 L551.18 539.89 L552.7 539.5 L554.06 539.11 L555.31 538.72 L556.49 538.34 L557.62 537.95 L558.74 537.56 L559.86 537.17 L561.01 536.79 L562.15 536.4 L563.27 536.01 L564.38 535.62 L565.48 535.23 L566.58 534.85 L567.67 534.46 L568.76 534.07 L569.83 533.68 L570.9 533.3 L571.96 532.91 L573.02 532.52 L574.08 532.13 L575.15 531.75 L576.22 531.36 L577.29 530.97 L578.37 530.58 L579.44 530.19 L580.5 529.81 L581.56 529.42 L582.62 529.03 L583.69 528.64 L584.76 528.26 L585.82 527.87 L586.86 527.48 L587.87 527.09 L588.85 526.7 L589.78 526.32 L590.69 525.93 L591.57 525.54 L592.42 525.15 L593.27 524.77 L594.1 524.38 L594.92 523.99 L595.73 523.6 L596.55 523.22 L597.37 522.83 L598.21 522.44 L599.04 522.05 L599.86 521.66 L600.67 521.28 L601.46 520.89 L602.22 520.5 L602.95 520.11 L603.64 519.73 L604.29 519.34 L604.92 518.95 L605.53 518.56 L606.13 518.17 L606.71 517.79 L607.27 517.4 L607.81 517.01 L608.34 516.62 L608.86 516.24 L609.36 515.85 L609.85 515.46 L610.33 515.07 L610.79 514.69 L611.25 514.3 L611.69 513.91 L612.13 513.52 L612.55 513.13 L612.97 512.75 L613.38 512.36 L613.78 511.97 L614.17 511.58 L614.54 511.2 L614.91 510.81 L615.27 510.42 L615.62 510.03 L615.96 509.64 L616.29 509.26 L616.62 508.87 L616.95 508.48 L617.26 508.09 L617.57 507.71 L617.88 507.32 L618.17 506.93 L618.46 506.54 L618.74 506.16 L619.01 505.77 L619.27 505.38 L619.52 504.99 L619.76 504.6 L619.98 504.22 L620.2 503.83 L620.41 503.44 L620.61 503.05 L620.8 502.67 L620.99 502.28 L621.17 501.89 L621.35 501.5 L621.52 501.11 L621.68 500.73 L621.84 500.34 L621.99 499.95 L622.14 499.56 L622.28 499.18 L622.42 498.79 L622.56 498.4 L622.69 498.01 L622.82 497.63 L622.94 497.24 L623.06 496.85 L623.18 496.46 L623.29 496.07 L623.4 495.69 L623.5 495.3 L623.59 494.91" fill="none" stroke="#0000aa" stroke-width="1.9" stroke-dasharray="4.23 3.71"/>
<path d="M400.7 649.61 L400.71 649.23 L400.73 648.84 L400.75 648.45 L400.77 648.06 L400.79 647.67 L400.82 647.29 L400.84 646.9 L400.87 646.51 L400.9 646.12 L400.93 645.74 L400.96 645.35 L400.99 644.96 L401.02 644.57 L401.05 644.19 L401.09 643.8 L401.12 643.41 L401.16 643.02 L401.2 642.63 L401.24 642.25 L401.28 641.86 L401.32 641.47 L401.36 641.08 L401.41 640.7 L401.45 640.31 L401.49 639.92 L401.54 639.53 L401.59 639.14 L401.64 638.76 L401.68 638.37 L401.73 637.98 L401.78 637.59 L401.84 637.21 L401.89 636.82 L401.94 636.43 L401.99 636.04 L402.05 635.66 L402.1 635.27 L402.16 634.88 L402.21 634.49 L402.27 634.1 L402.33 633.72 L402.38 633.33 L402.44 632.94 L402.5 632.55 L402.56 632.17 L402.62 631.78 L402.68 631.39 L402.74 631 L402.8 630.61 L402.86 630.23 L402.92 629.84 L402.98 629.45 L403.05 629.06 L403.11 628.68 L403.17 628.29 L403.23 627.9 L403.3 627.51 L403.36 627.13 L403.43 626.74 L403.5 626.35 L403.57 625.96 L403.64 625.57 L403.71 625.19 L403.79 624.8 L403.86 624.41 L403.94 624.02 L404.02 623.64 L404.1 623.25 L404.18 622.86 L404.27 622.47 L404.35 622.08 L404.44 621.7 L404.53 621.31 L404.62 620.92 L404.71 620.53 L404.81 620.15 L404.9 619.76 L405 619.37 L405.1 618.98 L405.2 618.6 L405.3 618.21 L405.41 617.82 L405.51 617.43 L405.62 617.04 L405.73 616.66 L405.84 616.27 L405.96 615.88 L406.07 615.49 L406.19 615.11 L406.31 614.72 L406.43 614.33 L406.55 613.94 L406.68 613.55 L406.81 613.17 L406.94 612.78 L407.07 612.39 L407.2 612 L407.34 611.62 L407.48 611.23 L407.62 610.84 L407.77 610.45 L407.93 610.07 L408.1 609.68 L408.26 609.29 L408.44 608.9 L408.62 608.51 L408.8 608.13 L408.99 607.74 L409.18 607.35 L409.38 606.96 L409.58 606.58 L409.79 606.19 L410 605.8 L410.22 605.41 L410.44 605.03 L410.66 604.64 L410.89 604.25 L411.12 603.86 L411.36 603.47 L411.59 603.09 L411.84 602.7 L412.08 602.31 L412.33 601.92 L412.58 601.54 L412.83 601.15 L413.09 600.76 L413.35 600.37 L413.61 599.98 L413.87 599.6 L414.14 599.21 L414.4 598.82 L414.67 598.43 L414.94 598.05 L415.22 597.66 L415.49 597.27 L415.77 596.88 L416.05 596.5 L416.34 596.11 L416.63 595.72 L416.93 595.33 L417.24 594.94 L417.55 594.56 L417.86 594.17 L418.18 593.78 L418.51 593.39 L418.84 593.01 L419.18 592.62 L419.53 592.23 L419.88 591.84 L420.23 591.45 L420.6 591.07 L420.97 590.68 L421.34 590.29 L421.72 589.9 L422.11 589.52 L422.51 589.13 L422.91 588.74 L423.32 588.35 L423.73 587.97 L424.16 587.58 L424.59 587.19 L425.02 586.8 L425.47 586.41 L425.92 586.03 L426.39 585.64 L426.88 585.25 L427.38 584.86 L427.9 584.48 L428.44 584.09 L428.99 583.7 L429.55 583.31 L430.13 582.92 L430.72 582.54 L431.32 582.15 L431.93 581.76 L432.55 581.37 L433.18 580.99 L433.82 580.6 L434.46 580.21 L435.12 579.82 L435.78 579.44 L436.44 579.05 L437.11 578.66 L437.78 578.27 L438.45 577.88 L439.13 577.5 L439.81 577.11 L440.49 576.72 L441.17 576.33 L441.87 575.95 L442.58 575.56 L443.3 575.17 L444.02 574.78 L444.75 574.39 L445.5 574.01 L446.25 573.62 L447.01 573.23 L447.78 572.84 L448.56 572.46 L449.34 572.07 L450.14 571.68 L450.94 571.29 L451.75 570.91 L452.57 570.52 L453.4 570.13 L454.24 569.74 L455.09 569.35 L455.94 568.97 L456.81 568.58 L457.69 568.19 L458.58 567.8 L459.49 567.42 L460.42 567.03 L461.35 566.64 L462.3 566.25 L463.26 565.86 L464.23 565.48 L465.21 565.09 L466.2 564.7 L467.2 564.31 L468.2 563.93 L469.21 563.54 L470.23 563.15 L471.25 562.76 L472.28 562.38 L473.31 561.99 L474.34 561.6 L475.38 561.21 L476.42 560.82 L477.46 560.44 L478.5 560.05 L479.55 559.66 L480.6 559.27 L481.65 558.89 L482.72 558.5 L483.79 558.11 L484.87 557.72 L485.95 557.33 L487.04 556.95 L488.15 556.56 L489.26 556.17 L490.38 555.78 L491.51 555.4 L492.66 555.01 L493.82 554.62 L494.98 554.23 L496.17 553.85 L497.36 553.46 L498.56 553.07 L499.75 552.68 L500.94 552.29 L502.14 551.91 L503.34 551.52 L504.56 551.13 L505.8 550.74 L507.06 550.36 L508.35 549.97 L509.67 549.58 L511.02 549.19 L512.42 548.81 L513.87 548.42 L515.36 548.03 L516.91 547.64 L518.54 547.25 L520.3 546.87 L522.18 546.48 L524.16 546.09 L526.23 545.7 L528.36 545.32 L530.54 544.93 L532.75 544.54 L534.96 544.15 L537.17 543.76 L539.34 543.38 L541.47 542.99 L543.53 542.6 L545.51 542.21 L547.41 541.83 L549.31 541.44 L551.17 541.05 L552.95 540.66 L554.6 540.28 L556.1 539.89 L557.49 539.5 L558.8 539.11 L560.04 538.72 L561.25 538.34 L562.44 537.95 L563.64 537.56 L564.87 537.17 L566.14 536.79 L567.4 536.4 L568.65 536.01 L569.9 535.62 L571.16 535.23 L572.44 534.85 L573.76 534.46 L575.13 534.07 L576.56 533.68 L578.06 533.3 L579.62 532.91 L581.22 532.52 L582.84 532.13 L584.45 531.75 L586.03 531.36 L587.65 530.97 L589.31 530.58 L590.98 530.19 L592.6 529.81 L594.15 529.42 L595.55 529.03 L596.79 528.64 L597.92 528.26 L598.97 527.87 L599.96 527.48 L600.9 527.09 L601.81 526.7 L602.7 526.32 L603.6 525.93 L604.51 525.54 L605.46 525.15 L606.45 524.77 L607.43 524.38 L608.42 523.99 L609.41 523.6 L610.4 523.22 L611.37 522.83 L612.35 522.44 L613.32 522.05 L614.29 521.66 L615.27 521.28 L616.3 520.89 L617.34 520.5 L618.36 520.11 L619.31 519.73 L620.16 519.34 L620.92 518.95 L621.63 518.56 L622.3 518.17 L622.94 517.79 L623.58 517.4 L624.23 517.01 L624.9 516.62 L625.56 516.24 L626.23 515.85 L626.88 515.46 L627.51 515.07 L628.12 514.69 L628.69 514.3 L629.23 513.91 L629.75 513.52 L630.25 513.13 L630.74 512.75 L631.22 512.36 L631.7 511.97 L632.16 511.58 L632.63 511.2 L633.1 510.81 L633.57 510.42 L634.03 510.03 L634.48 509.64 L634.93 509.26 L635.36 508.87 L635.77 508.48 L636.16 508.09 L636.53 507.71 L636.9 507.32 L637.25 506.93 L637.59 506.54 L637.93 506.16 L638.25 505.77 L638.56 505.38 L638.86 504.99 L639.15 504.6 L639.42 504.22 L639.68 503.83 L639.94 503.44 L640.2 503.05 L640.44 502.67 L640.68 502.28 L640.92 501.89 L641.14 501.5 L641.36 501.11 L641.56 500.73 L641.76 500.34 L641.94 499.95 L642.11 499.56 L642.28 499.18 L642.44 498.79 L642.59 498.4 L642.74 498.01 L642.89 497.63 L643.02 497.24 L643.16 496.85 L643.28 496.46 L643.4 496.07 L643.51 495.69 L643.61 495.3 L643.7 494.91" fill="none" stroke="#000000" stroke-width="1.9" stroke-dasharray="1.22 3.73"/>
<path d="M400.7 649.61 L400.72 649.21 L400.73 648.8 L400.75 648.39 L400.78 647.98 L400.8 647.57 L400.83 647.17 L400.85 646.76 L400.88 646.35 L400.91 645.94 L400.94 645.54 L400.97 645.13 L401.01 644.72 L401.04 644.31 L401.08 643.9 L401.12 643.5 L401.15 643.09 L401.19 642.68 L401.24 642.27 L401.28 641.86 L401.32 641.46 L401.37 641.05 L401.41 640.64 L401.46 640.23 L401.51 639.83 L401.55 639.42 L401.6 639.01 L401.66 638.6 L401.71 638.19 L401.76 637.79 L401.81 637.38 L401.87 636.97 L401.92 636.56 L401.98 636.16 L402.03 635.75 L402.09 635.34 L402.15 634.93 L402.21 634.52 L402.27 634.12 L402.33 633.71 L402.39 633.3 L402.45 632.89 L402.51 632.49 L402.57 632.08 L402.64 631.67 L402.7 631.26 L402.76 630.85 L402.83 630.45 L402.89 630.04 L402.96 629.63 L403.02 629.22 L403.09 628.81 L403.15 628.41 L403.22 628 L403.28 627.59 L403.35 627.18 L403.42 626.78 L403.49 626.37 L403.57 625.96 L403.64 625.55 L403.72 625.14 L403.8 624.74 L403.88 624.33 L403.96 623.92 L404.04 623.51 L404.13 623.11 L404.22 622.7 L404.31 622.29 L404.4 621.88 L404.49 621.47 L404.59 621.07 L404.68 620.66 L404.78 620.25 L404.88 619.84 L404.98 619.44 L405.09 619.03 L405.19 618.62 L405.3 618.21 L405.41 617.8 L405.52 617.4 L405.64 616.99 L405.75 616.58 L405.87 616.17 L405.99 615.76 L406.11 615.36 L406.24 614.95 L406.36 614.54 L406.49 614.13 L406.62 613.73 L406.76 613.32 L406.89 612.91 L407.03 612.5 L407.17 612.09 L407.31 611.69 L407.46 611.28 L407.61 610.87 L407.77 610.46 L407.94 610.06 L408.11 609.65 L408.29 609.24 L408.47 608.83 L408.66 608.42 L408.85 608.02 L409.05 607.61 L409.26 607.2 L409.47 606.79 L409.69 606.38 L409.91 605.98 L410.13 605.57 L410.36 605.16 L410.6 604.75 L410.83 604.35 L411.08 603.94 L411.32 603.53 L411.57 603.12 L411.83 602.71 L412.08 602.31 L412.34 601.9 L412.61 601.49 L412.87 601.08 L413.14 600.68 L413.42 600.27 L413.69 599.86 L413.97 599.45 L414.25 599.04 L414.53 598.64 L414.82 598.23 L415.1 597.82 L415.39 597.41 L415.68 597.01 L415.98 596.6 L416.28 596.19 L416.59 595.78 L416.9 595.37 L417.22 594.97 L417.55 594.56 L417.88 594.15 L418.22 593.74 L418.56 593.33 L418.91 592.93 L419.27 592.52 L419.63 592.11 L420 591.7 L420.38 591.3 L420.77 590.89 L421.16 590.48 L421.56 590.07 L421.96 589.66 L422.37 589.26 L422.8 588.85 L423.22 588.44 L423.66 588.03 L424.1 587.63 L424.55 587.22 L425.01 586.81 L425.48 586.4 L425.96 585.99 L426.45 585.59 L426.97 585.18 L427.5 584.77 L428.06 584.36 L428.62 583.96 L429.21 583.55 L429.81 583.14 L430.42 582.73 L431.05 582.32 L431.69 581.92 L432.33 581.51 L432.99 581.1 L433.66 580.69 L434.34 580.28 L435.03 579.88 L435.72 579.47 L436.42 579.06 L437.12 578.65 L437.82 578.25 L438.53 577.84 L439.24 577.43 L439.96 577.02 L440.67 576.61 L441.4 576.21 L442.14 575.8 L442.89 575.39 L443.64 574.98 L444.41 574.58 L445.19 574.17 L445.97 573.76 L446.77 573.35 L447.58 572.94 L448.39 572.54 L449.22 572.13 L450.05 571.72 L450.9 571.31 L451.75 570.91 L452.62 570.5 L453.49 570.09 L454.37 569.68 L455.27 569.27 L456.17 568.87 L457.08 568.46 L458.01 568.05 L458.96 567.64 L459.92 567.23 L460.9 566.83 L461.89 566.42 L462.9 566.01 L463.91 565.6 L464.94 565.2 L465.98 564.79 L467.03 564.38 L468.08 563.97 L469.15 563.56 L470.21 563.16 L471.29 562.75 L472.37 562.34 L473.46 561.93 L474.54 561.53 L475.63 561.12 L476.72 560.71 L477.82 560.3 L478.91 559.89 L480.01 559.49 L481.11 559.08 L482.22 558.67 L483.33 558.26 L484.45 557.85 L485.58 557.45 L486.72 557.04 L487.87 556.63 L489.04 556.22 L490.22 555.82 L491.41 555.41 L492.62 555 L493.85 554.59 L495.09 554.18 L496.36 553.78 L497.64 553.37 L498.91 552.96 L500.16 552.55 L501.41 552.15 L502.65 551.74 L503.92 551.33 L505.21 550.92 L506.55 550.51 L507.94 550.11 L509.39 549.7 L510.91 549.29 L512.53 548.88 L514.24 548.48 L516.07 548.07 L518.02 547.66 L520.39 547.25 L523.2 546.84 L526.32 546.44 L529.61 546.03 L532.94 545.62 L536.19 545.21 L539.21 544.8 L541.87 544.4 L544.09 543.99 L546.07 543.58 L547.9 543.17 L549.61 542.77 L551.25 542.36 L552.86 541.95 L554.5 541.54 L556.2 541.13 L557.94 540.73 L559.66 540.32 L561.38 539.91 L563.1 539.5 L564.84 539.1 L566.61 538.69 L568.42 538.28 L570.28 537.87 L572.24 537.46 L574.27 537.06 L576.32 536.65 L578.37 536.24 L580.37 535.83 L582.27 535.43 L584.12 535.02 L585.94 534.61 L587.72 534.2 L589.47 533.79 L591.2 533.39 L592.9 532.98 L594.58 532.57 L596.23 532.16 L597.86 531.75 L599.44 531.35 L600.96 530.94 L602.38 530.53 L603.7 530.12 L605.01 529.72 L606.36 529.31 L607.83 528.9 L609.48 528.49 L611.24 528.08 L612.99 527.68 L614.64 527.27 L616.11 526.86 L617.46 526.45 L618.81 526.05 L620.28 525.64 L621.96 525.23 L623.75 524.82 L625.47 524.41 L626.96 524.01 L628.26 523.6 L629.45 523.19 L630.59 522.78 L631.72 522.38 L632.87 521.97 L634.02 521.56 L635.15 521.15 L636.28 520.74 L637.43 520.34 L638.61 519.93 L639.87 519.52 L641.18 519.11 L642.48 518.7 L643.72 518.3 L644.82 517.89 L645.8 517.48 L646.72 517.07 L647.59 516.67 L648.43 516.26 L649.23 515.85 L650.03 515.44 L650.83 515.03 L651.63 514.63 L652.42 514.22 L653.19 513.81 L653.95 513.4 L654.69 513 L655.43 512.59 L656.15 512.18 L656.87 511.77 L657.59 511.36 L658.31 510.96 L659.03 510.55 L659.72 510.14 L660.4 509.73 L661.04 509.33 L661.64 508.92 L662.2 508.51 L662.71 508.1 L663.21 507.69 L663.68 507.29 L664.13 506.88 L664.57 506.47 L664.99 506.06 L665.41 505.65 L665.82 505.25 L666.22 504.84 L666.63 504.43 L667.03 504.02 L667.45 503.62 L667.86 503.21 L668.28 502.8 L668.69 502.39 L669.09 501.98 L669.49 501.58 L669.87 501.17 L670.24 500.76 L670.59 500.35 L670.92 499.95 L671.22 499.54 L671.5 499.13 L671.77 498.72 L672.02 498.31 L672.26 497.91 L672.49 497.5 L672.71 497.09 L672.92 496.68 L673.12 496.27 L673.32 495.87 L673.52 495.46 L673.71 495.05 L673.9 494.64 L674.08 494.24 L674.26 493.83 L674.45 493.42 L674.63 493.01 L674.81 492.6 L674.98 492.2 L675.16 491.79 L675.33 491.38 L675.49 490.97 L675.66 490.57 L675.82 490.16 L675.98 489.75 L676.13 489.34 L676.28 488.93 L676.43 488.53 L676.58 488.12 L676.72 487.71 L676.85 487.3 L676.98 486.9" fill="none" stroke="#b40000" stroke-width="1.9" stroke-dasharray="1.22 3.95 4.04 3.57"/>
<path d="M421.5 490.7 L441.3 490.7" fill="none" stroke="#00a300" stroke-width="1.9"/>
<text x="447.7" y="494.6" font-size="9.2" font-family="'Liberation Sans', sans-serif" textLength="34.5" lengthAdjust="spacingAndGlyphs">&#947;=1&#215;10<tspan dy="-3.68" font-size="6.35">2</tspan></text>
<path d="M404.8 508.9 L441.3 508.9" fill="none" stroke="#0000aa" stroke-width="1.9" stroke-dasharray="4.23 3.71"/>
<text x="450" y="512.8" font-size="9.2" font-family="'Liberation Sans', sans-serif" textLength="34.5" lengthAdjust="spacingAndGlyphs">&#947;=3&#215;10<tspan dy="-3.68" font-size="6.35">2</tspan></text>
<path d="M404.8 526.9 L441.3 526.9" fill="none" stroke="#000000" stroke-width="1.9" stroke-dasharray="1.22 3.73"/>
<text x="450" y="530.8" font-size="9.2" font-family="'Liberation Sans', sans-serif" textLength="34.5" lengthAdjust="spacingAndGlyphs">&#947;=4&#215;10<tspan dy="-3.68" font-size="6.35">2</tspan></text>
<path d="M404.8 545 L441.3 545" fill="none" stroke="#b40000" stroke-width="1.9" stroke-dasharray="1.22 3.95 4.04 3.57"/>
<text x="450" y="548.9" font-size="9.2" font-family="'Liberation Sans', sans-serif" textLength="34.5" lengthAdjust="spacingAndGlyphs">&#947;=5&#215;10<tspan dy="-3.68" font-size="6.35">2</tspan></text>
<text transform="translate(358.4 577.3) rotate(-90)" font-size="10" font-family="'Liberation Serif', serif">10<tspan dy="-4.3" font-size="7">17</tspan><tspan dy="4.3"> &#950;</tspan></text>
<text transform="translate(539.5 689) scale(0.86 1)" font-size="11" text-anchor="middle" font-family="'Liberation Sans', sans-serif">&#951;</text>
</svg>
</body></html>
